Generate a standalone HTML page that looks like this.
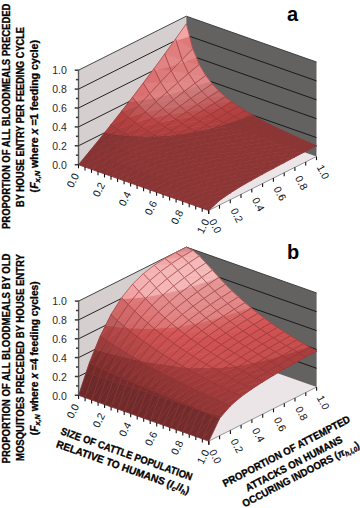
<!DOCTYPE html><html><head><meta charset="utf-8"><style>
*{margin:0;padding:0}
html,body{width:360px;height:508px;background:#fff;overflow:hidden}
svg{display:block}
.m{fill:none;stroke:#943636;stroke-width:0.6;stroke-opacity:1;stroke-linejoin:round}
.g{fill:none;stroke:#111;stroke-width:0.9}
.fa{stroke:#8a8a8a;stroke-width:0.9}
.t{fill:none;stroke:#333;stroke-width:0.9}
.ax{stroke:#5a5a5a;stroke-width:1.4}
.az{stroke:#3a3a3a;stroke-width:1.5}
.tk{stroke:#111;stroke-width:1.1}
text{font-family:"Liberation Sans",sans-serif}
.zl{font-size:10.5px;fill:#2a2a2a;text-anchor:end}
.tl{font-size:10.5px;fill:#111;text-anchor:middle;dominant-baseline:central}
.ti{font-size:10px;font-weight:bold;fill:#000;stroke:#000;stroke-width:0.3}
.bt{font-size:10.4px}
</style></head><body><svg width="360" height="508" viewBox="0 0 360 508"><rect width="360" height="508" fill="#fff"/><polygon points="78.5,164.7 186.3,110.7 316.5,156.5 208.7,210.5" fill="#ece5e7"/>
<polygon points="78.5,164.7 78.5,70.2 186.3,16.2 186.3,110.7" fill="#d5cfd0"/>
<polygon points="186.3,110.7 186.3,16.2 316.5,62 316.5,156.5" fill="#646161"/>
<polyline points="78.5,145.8 186.3,91.8 316.5,137.6" class="g"/>
<polyline points="78.5,126.9 186.3,72.9 316.5,118.7" class="g"/>
<polyline points="78.5,108 186.3,54 316.5,99.8" class="g"/>
<polyline points="78.5,89.1 186.3,35.1 316.5,80.9" class="g"/>
<polyline points="78.5,70.2 186.3,16.2 316.5,62" class="t"/>
<line x1="208.7" y1="210.5" x2="316.5" y2="156.5" class="fa"/>
<polygon points="176,40.7 182,59.8 192.8,48.8 177.5,40.1" fill="#e18181" stroke="#e18181" stroke-width="0.6"/>
<polygon points="175.5,39 176,40.7 177.5,40.1" fill="#f3aaaa" stroke="#f3aaaa" stroke-width="0.6"/>
<polygon points="177.5,40.1 192.8,48.8 189.5,36.2" fill="#df7979" stroke="#df7979" stroke-width="0.6"/>
<polygon points="175.5,39 177.5,40.1 189.5,36.2 186.3,23.8" fill="#f2a5a5" stroke="#f2a5a5" stroke-width="0.6"/>
<polygon points="175.5,39 182,59.8 192.8,48.8 186.3,23.8" class="m"/>
<polygon points="183.1,62.1 188.5,73.4 199.3,64.4 186.3,60.9" fill="#de7e7e" stroke="#de7e7e" stroke-width="0.6"/>
<polygon points="182,59.8 183.1,62.1 186.3,60.9" fill="#e59191" stroke="#e59191" stroke-width="0.6"/>
<polygon points="186.3,60.9 199.3,64.4 196.5,57.6" fill="#dc7676" stroke="#dc7676" stroke-width="0.6"/>
<polygon points="182,59.8 186.3,60.9 196.5,57.6 192.8,48.8" fill="#e38b8b" stroke="#e38b8b" stroke-width="0.6"/>
<polygon points="182,59.8 188.5,73.4 199.3,64.4 192.8,48.8" class="m"/>
<polygon points="188.5,73.4 195.1,83.3 205.8,75.5" fill="#e18888" stroke="#e18888" stroke-width="0.6"/>
<polygon points="188.5,73.4 205.8,75.5 199.3,64.4" fill="#e08585" stroke="#e08585" stroke-width="0.6"/>
<polygon points="188.5,73.4 195.1,83.3 205.8,75.5 199.3,64.4" class="m"/>
<polygon points="197.2,85.9 201.6,91.1 212.3,83.9 203.6,83.6" fill="#cd7c7c" stroke="#cd7c7c" stroke-width="0.6"/>
<polygon points="195.1,83.3 197.2,85.9 203.6,83.6" fill="#e18888" stroke="#e18888" stroke-width="0.6"/>
<polygon points="203.6,83.6 212.3,83.9 210.4,81.4" fill="#ce7d7d" stroke="#ce7d7d" stroke-width="0.6"/>
<polygon points="195.1,83.3 203.6,83.6 210.4,81.4 205.8,75.5" fill="#e18989" stroke="#e18989" stroke-width="0.6"/>
<polygon points="195.1,83.3 201.6,91.1 212.3,83.9 205.8,75.5" class="m"/>
<polygon points="201.6,91.1 208.1,97.6 218.8,90.8" fill="#c97272" stroke="#c97272" stroke-width="0.6"/>
<polygon points="201.6,91.1 218.8,90.8 212.3,83.9" fill="#cb7676" stroke="#cb7676" stroke-width="0.6"/>
<polygon points="201.6,91.1 208.1,97.6 218.8,90.8 212.3,83.9" class="m"/>
<polygon points="208.1,97.6 214.6,103.2 225.4,96.7" fill="#c36161" stroke="#c36161" stroke-width="0.6"/>
<polygon points="208.1,97.6 225.4,96.7 218.8,90.8" fill="#c56868" stroke="#c56868" stroke-width="0.6"/>
<polygon points="208.1,97.6 214.6,103.2 225.4,96.7 218.8,90.8" class="m"/>
<polygon points="214.6,103.2 221.1,108.1 231.9,101.8" fill="#bc4f4f" stroke="#bc4f4f" stroke-width="0.6"/>
<polygon points="214.6,103.2 231.9,101.8 225.4,96.7" fill="#be5656" stroke="#be5656" stroke-width="0.6"/>
<polygon points="214.6,103.2 221.1,108.1 231.9,101.8 225.4,96.7" class="m"/>
<polygon points="221.1,108.1 227.6,112.5 238.4,106.4" fill="#b64242" stroke="#b64242" stroke-width="0.6"/>
<polygon points="221.1,108.1 238.4,106.4 231.9,101.8" fill="#b74343" stroke="#b74343" stroke-width="0.6"/>
<polygon points="221.1,108.1 227.6,112.5 238.4,106.4 231.9,101.8" class="m"/>
<polygon points="227.6,112.5 234.1,116.6 244.9,110.6" fill="#b24040" stroke="#b24040" stroke-width="0.6"/>
<polygon points="227.6,112.5 244.9,110.6 238.4,106.4" fill="#b34141" stroke="#b34141" stroke-width="0.6"/>
<polygon points="227.6,112.5 234.1,116.6 244.9,110.6 238.4,106.4" class="m"/>
<polygon points="239.3,119.6 240.6,120.4 247.1,116.8" fill="#8c3535" stroke="#8c3535" stroke-width="0.6"/>
<polygon points="234.1,116.6 239.3,119.6 247.1,116.8 251.4,114.5" fill="#ae3f3f" stroke="#ae3f3f" stroke-width="0.6"/>
<polygon points="234.1,116.6 251.4,114.5 244.9,110.6" fill="#af3f3f" stroke="#af3f3f" stroke-width="0.6"/>
<polygon points="234.1,116.6 240.6,120.4 251.4,114.5 244.9,110.6" class="m"/>
<polygon points="240.6,120.4 247.1,124 257.9,118.2" fill="#8c3535" stroke="#8c3535" stroke-width="0.6"/>
<polygon points="240.6,120.4 257.9,118.2 252.4,115 247.1,116.8" fill="#8c3535" stroke="#8c3535" stroke-width="0.6"/>
<polygon points="252.4,115 251.4,114.5 247.1,116.8" fill="#ac3e3e" stroke="#ac3e3e" stroke-width="0.6"/>
<polygon points="240.6,120.4 247.1,124 257.9,118.2 251.4,114.5" class="m"/>
<polygon points="247.1,124 253.6,127.4 264.4,121.7" fill="#8c3535" stroke="#8c3535" stroke-width="0.6"/>
<polygon points="247.1,124 264.4,121.7 257.9,118.2" fill="#8c3535" stroke="#8c3535" stroke-width="0.6"/>
<polygon points="247.1,124 253.6,127.4 264.4,121.7 257.9,118.2" class="m"/>
<polygon points="253.6,127.4 260.1,130.7 270.9,125" fill="#8c3535" stroke="#8c3535" stroke-width="0.6"/>
<polygon points="253.6,127.4 270.9,125 264.4,121.7" fill="#8c3535" stroke="#8c3535" stroke-width="0.6"/>
<polygon points="253.6,127.4 260.1,130.7 270.9,125 264.4,121.7" class="m"/>
<polygon points="260.1,130.7 266.7,133.9 277.4,128.2" fill="#8c3535" stroke="#8c3535" stroke-width="0.6"/>
<polygon points="260.1,130.7 277.4,128.2 270.9,125" fill="#8c3535" stroke="#8c3535" stroke-width="0.6"/>
<polygon points="260.1,130.7 266.7,133.9 277.4,128.2 270.9,125" class="m"/>
<polygon points="266.7,133.9 273.2,137 283.9,131.3" fill="#8c3535" stroke="#8c3535" stroke-width="0.6"/>
<polygon points="266.7,133.9 283.9,131.3 277.4,128.2" fill="#8c3535" stroke="#8c3535" stroke-width="0.6"/>
<polygon points="266.7,133.9 273.2,137 283.9,131.3 277.4,128.2" class="m"/>
<polygon points="273.2,137 279.7,140 290.5,134.3" fill="#8c3535" stroke="#8c3535" stroke-width="0.6"/>
<polygon points="273.2,137 290.5,134.3 283.9,131.3" fill="#8c3535" stroke="#8c3535" stroke-width="0.6"/>
<polygon points="273.2,137 279.7,140 290.5,134.3 283.9,131.3" class="m"/>
<polygon points="279.7,140 286.2,142.9 297,137.3" fill="#8c3535" stroke="#8c3535" stroke-width="0.6"/>
<polygon points="279.7,140 297,137.3 290.5,134.3" fill="#8c3535" stroke="#8c3535" stroke-width="0.6"/>
<polygon points="279.7,140 286.2,142.9 297,137.3 290.5,134.3" class="m"/>
<polygon points="286.2,142.9 292.7,145.8 303.5,140.2" fill="#8c3535" stroke="#8c3535" stroke-width="0.6"/>
<polygon points="286.2,142.9 303.5,140.2 297,137.3" fill="#8c3535" stroke="#8c3535" stroke-width="0.6"/>
<polygon points="286.2,142.9 292.7,145.8 303.5,140.2 297,137.3" class="m"/>
<polygon points="292.7,145.8 299.2,148.6 310,143" fill="#8c3535" stroke="#8c3535" stroke-width="0.6"/>
<polygon points="292.7,145.8 310,143 303.5,140.2" fill="#8c3535" stroke="#8c3535" stroke-width="0.6"/>
<polygon points="292.7,145.8 299.2,148.6 310,143 303.5,140.2" class="m"/>
<polygon points="299.2,148.6 305.7,151.3 316.5,145.8" fill="#8c3535" stroke="#8c3535" stroke-width="0.6"/>
<polygon points="299.2,148.6 316.5,145.8 310,143" fill="#8c3535" stroke="#8c3535" stroke-width="0.6"/>
<polygon points="299.2,148.6 305.7,151.3 316.5,145.8 310,143" class="m"/>
<polygon points="169.6,66.5 171.2,70.9 178.4,63.5" fill="#db7373" stroke="#db7373" stroke-width="0.6"/>
<polygon points="164.7,54 169.6,66.5 178.4,63.5 182,59.8" fill="#e28888" stroke="#e28888" stroke-width="0.6"/>
<polygon points="164.7,54 182,59.8 176,40.7 173.8,41.3" fill="#e07e7e" stroke="#e07e7e" stroke-width="0.6"/>
<polygon points="176,40.7 175.5,39 173.8,41.3" fill="#f3a8a8" stroke="#f3a8a8" stroke-width="0.6"/>
<polygon points="164.7,54 171.2,70.9 182,59.8 175.5,39" class="m"/>
<polygon points="171.2,70.9 177.8,82.6 188.5,73.4" fill="#df8383" stroke="#df8383" stroke-width="0.6"/>
<polygon points="171.2,70.9 188.5,73.4 183.1,62.1 178.4,63.5" fill="#dd7b7b" stroke="#dd7b7b" stroke-width="0.6"/>
<polygon points="183.1,62.1 182,59.8 178.4,63.5" fill="#e48f8f" stroke="#e48f8f" stroke-width="0.6"/>
<polygon points="171.2,70.9 177.8,82.6 188.5,73.4 182,59.8" class="m"/>
<polygon points="183.4,90.3 184.3,91.4 187.6,88.9" fill="#ce7d7d" stroke="#ce7d7d" stroke-width="0.6"/>
<polygon points="177.8,82.6 183.4,90.3 187.6,88.9 195.1,83.3" fill="#e18989" stroke="#e18989" stroke-width="0.6"/>
<polygon points="177.8,82.6 195.1,83.3 188.5,73.4" fill="#e08686" stroke="#e08686" stroke-width="0.6"/>
<polygon points="177.8,82.6 184.3,91.4 195.1,83.3 188.5,73.4" class="m"/>
<polygon points="184.3,91.4 190.8,98.5 201.6,91.1" fill="#cc7878" stroke="#cc7878" stroke-width="0.6"/>
<polygon points="184.3,91.4 201.6,91.1 197.2,85.9 187.6,88.9" fill="#cd7b7b" stroke="#cd7b7b" stroke-width="0.6"/>
<polygon points="197.2,85.9 195.1,83.3 187.6,88.9" fill="#e08787" stroke="#e08787" stroke-width="0.6"/>
<polygon points="184.3,91.4 190.8,98.5 201.6,91.1 195.1,83.3" class="m"/>
<polygon points="190.8,98.5 197.3,104.6 208.1,97.6" fill="#c76b6b" stroke="#c76b6b" stroke-width="0.6"/>
<polygon points="190.8,98.5 208.1,97.6 201.6,91.1" fill="#c97171" stroke="#c97171" stroke-width="0.6"/>
<polygon points="190.8,98.5 197.3,104.6 208.1,97.6 201.6,91.1" class="m"/>
<polygon points="197.3,104.6 203.8,109.8 214.6,103.2" fill="#c05959" stroke="#c05959" stroke-width="0.6"/>
<polygon points="197.3,104.6 214.6,103.2 208.1,97.6" fill="#c36161" stroke="#c36161" stroke-width="0.6"/>
<polygon points="197.3,104.6 203.8,109.8 214.6,103.2 208.1,97.6" class="m"/>
<polygon points="203.8,109.8 210.3,114.5 221.1,108.1" fill="#b94747" stroke="#b94747" stroke-width="0.6"/>
<polygon points="203.8,109.8 221.1,108.1 214.6,103.2" fill="#bc4f4f" stroke="#bc4f4f" stroke-width="0.6"/>
<polygon points="203.8,109.8 210.3,114.5 221.1,108.1 214.6,103.2" class="m"/>
<polygon points="210.3,114.5 216.8,118.8 227.6,112.5" fill="#b44141" stroke="#b44141" stroke-width="0.6"/>
<polygon points="210.3,114.5 227.6,112.5 221.1,108.1" fill="#b64242" stroke="#b64242" stroke-width="0.6"/>
<polygon points="210.3,114.5 216.8,118.8 227.6,112.5 221.1,108.1" class="m"/>
<polygon points="216.8,118.8 223.3,122.7 234.1,116.6" fill="#b03f3f" stroke="#b03f3f" stroke-width="0.6"/>
<polygon points="216.8,118.8 234.1,116.6 227.6,112.5" fill="#b24040" stroke="#b24040" stroke-width="0.6"/>
<polygon points="216.8,118.8 223.3,122.7 234.1,116.6 227.6,112.5" class="m"/>
<polygon points="225.6,124 229.8,126.4 240.6,120.4 233.9,121.3" fill="#8c3535" stroke="#8c3535" stroke-width="0.6"/>
<polygon points="223.3,122.7 225.6,124 233.9,121.3" fill="#ad3e3e" stroke="#ad3e3e" stroke-width="0.6"/>
<polygon points="233.9,121.3 240.6,120.4 239.3,119.6" fill="#8c3535" stroke="#8c3535" stroke-width="0.6"/>
<polygon points="223.3,122.7 233.9,121.3 239.3,119.6 234.1,116.6" fill="#ae3f3f" stroke="#ae3f3f" stroke-width="0.6"/>
<polygon points="223.3,122.7 229.8,126.4 240.6,120.4 234.1,116.6" class="m"/>
<polygon points="229.8,126.4 236.4,129.9 247.1,124" fill="#8c3535" stroke="#8c3535" stroke-width="0.6"/>
<polygon points="229.8,126.4 247.1,124 240.6,120.4" fill="#8c3535" stroke="#8c3535" stroke-width="0.6"/>
<polygon points="229.8,126.4 236.4,129.9 247.1,124 240.6,120.4" class="m"/>
<polygon points="236.4,129.9 242.9,133.3 253.6,127.4" fill="#8c3535" stroke="#8c3535" stroke-width="0.6"/>
<polygon points="236.4,129.9 253.6,127.4 247.1,124" fill="#8c3535" stroke="#8c3535" stroke-width="0.6"/>
<polygon points="236.4,129.9 242.9,133.3 253.6,127.4 247.1,124" class="m"/>
<polygon points="242.9,133.3 249.4,136.5 260.1,130.7" fill="#8c3535" stroke="#8c3535" stroke-width="0.6"/>
<polygon points="242.9,133.3 260.1,130.7 253.6,127.4" fill="#8c3535" stroke="#8c3535" stroke-width="0.6"/>
<polygon points="242.9,133.3 249.4,136.5 260.1,130.7 253.6,127.4" class="m"/>
<polygon points="249.4,136.5 255.9,139.7 266.7,133.9" fill="#8c3535" stroke="#8c3535" stroke-width="0.6"/>
<polygon points="249.4,136.5 266.7,133.9 260.1,130.7" fill="#8c3535" stroke="#8c3535" stroke-width="0.6"/>
<polygon points="249.4,136.5 255.9,139.7 266.7,133.9 260.1,130.7" class="m"/>
<polygon points="255.9,139.7 262.4,142.7 273.2,137" fill="#8c3535" stroke="#8c3535" stroke-width="0.6"/>
<polygon points="255.9,139.7 273.2,137 266.7,133.9" fill="#8c3535" stroke="#8c3535" stroke-width="0.6"/>
<polygon points="255.9,139.7 262.4,142.7 273.2,137 266.7,133.9" class="m"/>
<polygon points="262.4,142.7 268.9,145.7 279.7,140" fill="#8c3535" stroke="#8c3535" stroke-width="0.6"/>
<polygon points="262.4,142.7 279.7,140 273.2,137" fill="#8c3535" stroke="#8c3535" stroke-width="0.6"/>
<polygon points="262.4,142.7 268.9,145.7 279.7,140 273.2,137" class="m"/>
<polygon points="268.9,145.7 275.4,148.6 286.2,142.9" fill="#8c3535" stroke="#8c3535" stroke-width="0.6"/>
<polygon points="268.9,145.7 286.2,142.9 279.7,140" fill="#8c3535" stroke="#8c3535" stroke-width="0.6"/>
<polygon points="268.9,145.7 275.4,148.6 286.2,142.9 279.7,140" class="m"/>
<polygon points="275.4,148.6 281.9,151.4 292.7,145.8" fill="#8c3535" stroke="#8c3535" stroke-width="0.6"/>
<polygon points="275.4,148.6 292.7,145.8 286.2,142.9" fill="#8c3535" stroke="#8c3535" stroke-width="0.6"/>
<polygon points="275.4,148.6 281.9,151.4 292.7,145.8 286.2,142.9" class="m"/>
<polygon points="281.9,151.4 288.4,154.2 299.2,148.6" fill="#8c3535" stroke="#8c3535" stroke-width="0.6"/>
<polygon points="281.9,151.4 299.2,148.6 292.7,145.8" fill="#8c3535" stroke="#8c3535" stroke-width="0.6"/>
<polygon points="281.9,151.4 288.4,154.2 299.2,148.6 292.7,145.8" class="m"/>
<polygon points="288.4,154.2 294.9,156.9 305.7,151.3" fill="#8c3535" stroke="#8c3535" stroke-width="0.6"/>
<polygon points="288.4,154.2 305.7,151.3 299.2,148.6" fill="#8c3535" stroke="#8c3535" stroke-width="0.6"/>
<polygon points="288.4,154.2 294.9,156.9 305.7,151.3 299.2,148.6" class="m"/>
<polygon points="154.9,70.5 160.5,82.1 171.2,70.9 159,69.3" fill="#dd7b7b" stroke="#dd7b7b" stroke-width="0.6"/>
<polygon points="154,68.7 154.9,70.5 159,69.3" fill="#e48f8f" stroke="#e48f8f" stroke-width="0.6"/>
<polygon points="159,69.3 171.2,70.9 169.6,66.5" fill="#da6d6d" stroke="#da6d6d" stroke-width="0.6"/>
<polygon points="154,68.7 159,69.3 169.6,66.5 164.7,54" fill="#e18383" stroke="#e18383" stroke-width="0.6"/>
<polygon points="154,68.7 160.5,82.1 171.2,70.9 164.7,54" class="m"/>
<polygon points="160.5,82.1 167,92 177.8,82.6" fill="#e08585" stroke="#e08585" stroke-width="0.6"/>
<polygon points="160.5,82.1 177.8,82.6 171.2,70.9" fill="#de7e7e" stroke="#de7e7e" stroke-width="0.6"/>
<polygon points="160.5,82.1 167,92 177.8,82.6 171.2,70.9" class="m"/>
<polygon points="169,94.4 173.5,99.8 184.3,91.4 178.5,91.6" fill="#cc7a7a" stroke="#cc7a7a" stroke-width="0.6"/>
<polygon points="167,92 169,94.4 178.5,91.6" fill="#e08686" stroke="#e08686" stroke-width="0.6"/>
<polygon points="178.5,91.6 184.3,91.4 183.4,90.3" fill="#cc7979" stroke="#cc7979" stroke-width="0.6"/>
<polygon points="167,92 178.5,91.6 183.4,90.3 177.8,82.6" fill="#e08585" stroke="#e08585" stroke-width="0.6"/>
<polygon points="167,92 173.5,99.8 184.3,91.4 177.8,82.6" class="m"/>
<polygon points="173.5,99.8 180,106.2 190.8,98.5" fill="#c97070" stroke="#c97070" stroke-width="0.6"/>
<polygon points="173.5,99.8 190.8,98.5 184.3,91.4" fill="#cb7676" stroke="#cb7676" stroke-width="0.6"/>
<polygon points="173.5,99.8 180,106.2 190.8,98.5 184.3,91.4" class="m"/>
<polygon points="180,106.2 186.5,111.7 197.3,104.6" fill="#c36060" stroke="#c36060" stroke-width="0.6"/>
<polygon points="180,106.2 197.3,104.6 190.8,98.5" fill="#c66969" stroke="#c66969" stroke-width="0.6"/>
<polygon points="180,106.2 186.5,111.7 197.3,104.6 190.8,98.5" class="m"/>
<polygon points="186.5,111.7 193,116.6 203.8,109.8" fill="#bc4e4e" stroke="#bc4e4e" stroke-width="0.6"/>
<polygon points="186.5,111.7 203.8,109.8 197.3,104.6" fill="#c05959" stroke="#c05959" stroke-width="0.6"/>
<polygon points="186.5,111.7 193,116.6 203.8,109.8 197.3,104.6" class="m"/>
<polygon points="193,116.6 199.5,121.1 210.3,114.5" fill="#b64242" stroke="#b64242" stroke-width="0.6"/>
<polygon points="193,116.6 210.3,114.5 203.8,109.8" fill="#b94747" stroke="#b94747" stroke-width="0.6"/>
<polygon points="193,116.6 199.5,121.1 210.3,114.5 203.8,109.8" class="m"/>
<polygon points="199.5,121.1 206,125.2 216.8,118.8" fill="#b24040" stroke="#b24040" stroke-width="0.6"/>
<polygon points="199.5,121.1 216.8,118.8 210.3,114.5" fill="#b44141" stroke="#b44141" stroke-width="0.6"/>
<polygon points="199.5,121.1 206,125.2 216.8,118.8 210.3,114.5" class="m"/>
<polygon points="211,128.1 212.6,129 217,126.4" fill="#8c3535" stroke="#8c3535" stroke-width="0.6"/>
<polygon points="206,125.2 211,128.1 217,126.4 223.3,122.7" fill="#ae3f3f" stroke="#ae3f3f" stroke-width="0.6"/>
<polygon points="206,125.2 223.3,122.7 216.8,118.8" fill="#b04040" stroke="#b04040" stroke-width="0.6"/>
<polygon points="206,125.2 212.6,129 223.3,122.7 216.8,118.8" class="m"/>
<polygon points="212.6,129 219.1,132.6 229.8,126.4" fill="#8c3535" stroke="#8c3535" stroke-width="0.6"/>
<polygon points="212.6,129 229.8,126.4 225.6,124 217,126.4" fill="#8c3535" stroke="#8c3535" stroke-width="0.6"/>
<polygon points="225.6,124 223.3,122.7 217,126.4" fill="#ad3e3e" stroke="#ad3e3e" stroke-width="0.6"/>
<polygon points="212.6,129 219.1,132.6 229.8,126.4 223.3,122.7" class="m"/>
<polygon points="219.1,132.6 225.6,136 236.4,129.9" fill="#8c3535" stroke="#8c3535" stroke-width="0.6"/>
<polygon points="219.1,132.6 236.4,129.9 229.8,126.4" fill="#8c3535" stroke="#8c3535" stroke-width="0.6"/>
<polygon points="219.1,132.6 225.6,136 236.4,129.9 229.8,126.4" class="m"/>
<polygon points="225.6,136 232.1,139.3 242.9,133.3" fill="#8c3535" stroke="#8c3535" stroke-width="0.6"/>
<polygon points="225.6,136 242.9,133.3 236.4,129.9" fill="#8c3535" stroke="#8c3535" stroke-width="0.6"/>
<polygon points="225.6,136 232.1,139.3 242.9,133.3 236.4,129.9" class="m"/>
<polygon points="232.1,139.3 238.6,142.4 249.4,136.5" fill="#8c3535" stroke="#8c3535" stroke-width="0.6"/>
<polygon points="232.1,139.3 249.4,136.5 242.9,133.3" fill="#8c3535" stroke="#8c3535" stroke-width="0.6"/>
<polygon points="232.1,139.3 238.6,142.4 249.4,136.5 242.9,133.3" class="m"/>
<polygon points="238.6,142.4 245.1,145.5 255.9,139.7" fill="#8c3535" stroke="#8c3535" stroke-width="0.6"/>
<polygon points="238.6,142.4 255.9,139.7 249.4,136.5" fill="#8c3535" stroke="#8c3535" stroke-width="0.6"/>
<polygon points="238.6,142.4 245.1,145.5 255.9,139.7 249.4,136.5" class="m"/>
<polygon points="245.1,145.5 251.6,148.5 262.4,142.7" fill="#8c3535" stroke="#8c3535" stroke-width="0.6"/>
<polygon points="245.1,145.5 262.4,142.7 255.9,139.7" fill="#8c3535" stroke="#8c3535" stroke-width="0.6"/>
<polygon points="245.1,145.5 251.6,148.5 262.4,142.7 255.9,139.7" class="m"/>
<polygon points="251.6,148.5 258.1,151.4 268.9,145.7" fill="#8c3535" stroke="#8c3535" stroke-width="0.6"/>
<polygon points="251.6,148.5 268.9,145.7 262.4,142.7" fill="#8c3535" stroke="#8c3535" stroke-width="0.6"/>
<polygon points="251.6,148.5 258.1,151.4 268.9,145.7 262.4,142.7" class="m"/>
<polygon points="258.1,151.4 264.6,154.3 275.4,148.6" fill="#8c3535" stroke="#8c3535" stroke-width="0.6"/>
<polygon points="258.1,151.4 275.4,148.6 268.9,145.7" fill="#8c3535" stroke="#8c3535" stroke-width="0.6"/>
<polygon points="258.1,151.4 264.6,154.3 275.4,148.6 268.9,145.7" class="m"/>
<polygon points="264.6,154.3 271.1,157.1 281.9,151.4" fill="#8c3535" stroke="#8c3535" stroke-width="0.6"/>
<polygon points="264.6,154.3 281.9,151.4 275.4,148.6" fill="#8c3535" stroke="#8c3535" stroke-width="0.6"/>
<polygon points="264.6,154.3 271.1,157.1 281.9,151.4 275.4,148.6" class="m"/>
<polygon points="271.1,157.1 277.6,159.9 288.4,154.2" fill="#8c3535" stroke="#8c3535" stroke-width="0.6"/>
<polygon points="271.1,157.1 288.4,154.2 281.9,151.4" fill="#8c3535" stroke="#8c3535" stroke-width="0.6"/>
<polygon points="271.1,157.1 277.6,159.9 288.4,154.2 281.9,151.4" class="m"/>
<polygon points="277.6,159.9 284.2,162.6 294.9,156.9" fill="#8c3535" stroke="#8c3535" stroke-width="0.6"/>
<polygon points="277.6,159.9 294.9,156.9 288.4,154.2" fill="#8c3535" stroke="#8c3535" stroke-width="0.6"/>
<polygon points="277.6,159.9 284.2,162.6 294.9,156.9 288.4,154.2" class="m"/>
<polygon points="143.2,83.1 149.7,93.6 160.5,82.1" fill="#de7e7e" stroke="#de7e7e" stroke-width="0.6"/>
<polygon points="143.2,83.1 160.5,82.1 154.9,70.5 152.1,71.1" fill="#db7171" stroke="#db7171" stroke-width="0.6"/>
<polygon points="154.9,70.5 154,68.7 152.1,71.1" fill="#e28686" stroke="#e28686" stroke-width="0.6"/>
<polygon points="143.2,83.1 149.7,93.6 160.5,82.1 154,68.7" class="m"/>
<polygon points="153.2,98 156.2,101.8 162.9,95.7" fill="#cb7676" stroke="#cb7676" stroke-width="0.6"/>
<polygon points="149.7,93.6 153.2,98 162.9,95.7 167,92" fill="#df8282" stroke="#df8282" stroke-width="0.6"/>
<polygon points="149.7,93.6 167,92 160.5,82.1" fill="#de7e7e" stroke="#de7e7e" stroke-width="0.6"/>
<polygon points="149.7,93.6 156.2,101.8 167,92 160.5,82.1" class="m"/>
<polygon points="156.2,101.8 162.7,108.5 173.5,99.8" fill="#c87070" stroke="#c87070" stroke-width="0.6"/>
<polygon points="156.2,101.8 173.5,99.8 169,94.4 162.9,95.7" fill="#ca7373" stroke="#ca7373" stroke-width="0.6"/>
<polygon points="169,94.4 167,92 162.9,95.7" fill="#df8080" stroke="#df8080" stroke-width="0.6"/>
<polygon points="156.2,101.8 162.7,108.5 173.5,99.8 167,92" class="m"/>
<polygon points="162.7,108.5 169.2,114.2 180,106.2" fill="#c36262" stroke="#c36262" stroke-width="0.6"/>
<polygon points="162.7,108.5 180,106.2 173.5,99.8" fill="#c76c6c" stroke="#c76c6c" stroke-width="0.6"/>
<polygon points="162.7,108.5 169.2,114.2 180,106.2 173.5,99.8" class="m"/>
<polygon points="169.2,114.2 175.7,119.2 186.5,111.7" fill="#bd5252" stroke="#bd5252" stroke-width="0.6"/>
<polygon points="169.2,114.2 186.5,111.7 180,106.2" fill="#c25e5e" stroke="#c25e5e" stroke-width="0.6"/>
<polygon points="169.2,114.2 175.7,119.2 186.5,111.7 180,106.2" class="m"/>
<polygon points="175.7,119.2 182.2,123.7 193,116.6" fill="#b74242" stroke="#b74242" stroke-width="0.6"/>
<polygon points="175.7,119.2 193,116.6 186.5,111.7" fill="#bb4d4d" stroke="#bb4d4d" stroke-width="0.6"/>
<polygon points="175.7,119.2 182.2,123.7 193,116.6 186.5,111.7" class="m"/>
<polygon points="182.2,123.7 188.8,127.9 199.5,121.1" fill="#b34040" stroke="#b34040" stroke-width="0.6"/>
<polygon points="182.2,123.7 199.5,121.1 193,116.6" fill="#b64141" stroke="#b64141" stroke-width="0.6"/>
<polygon points="182.2,123.7 188.8,127.9 199.5,121.1 193,116.6" class="m"/>
<polygon points="195.1,131.7 195.3,131.7 195.5,131.6" fill="#8c3535" stroke="#8c3535" stroke-width="0.6"/>
<polygon points="188.8,127.9 195.1,131.7 195.5,131.6 206,125.2" fill="#af3f3f" stroke="#af3f3f" stroke-width="0.6"/>
<polygon points="188.8,127.9 206,125.2 199.5,121.1" fill="#b24040" stroke="#b24040" stroke-width="0.6"/>
<polygon points="188.8,127.9 195.3,131.7 206,125.2 199.5,121.1" class="m"/>
<polygon points="195.3,131.7 201.8,135.4 212.6,129" fill="#8c3535" stroke="#8c3535" stroke-width="0.6"/>
<polygon points="195.3,131.7 212.6,129 211,128.1 195.5,131.6" fill="#8c3535" stroke="#8c3535" stroke-width="0.6"/>
<polygon points="211,128.1 206,125.2 195.5,131.6" fill="#ae3f3f" stroke="#ae3f3f" stroke-width="0.6"/>
<polygon points="195.3,131.7 201.8,135.4 212.6,129 206,125.2" class="m"/>
<polygon points="201.8,135.4 208.3,138.8 219.1,132.6" fill="#8c3535" stroke="#8c3535" stroke-width="0.6"/>
<polygon points="201.8,135.4 219.1,132.6 212.6,129" fill="#8c3535" stroke="#8c3535" stroke-width="0.6"/>
<polygon points="201.8,135.4 208.3,138.8 219.1,132.6 212.6,129" class="m"/>
<polygon points="208.3,138.8 214.8,142.2 225.6,136" fill="#8c3535" stroke="#8c3535" stroke-width="0.6"/>
<polygon points="208.3,138.8 225.6,136 219.1,132.6" fill="#8c3535" stroke="#8c3535" stroke-width="0.6"/>
<polygon points="208.3,138.8 214.8,142.2 225.6,136 219.1,132.6" class="m"/>
<polygon points="214.8,142.2 221.3,145.4 232.1,139.3" fill="#8c3535" stroke="#8c3535" stroke-width="0.6"/>
<polygon points="214.8,142.2 232.1,139.3 225.6,136" fill="#8c3535" stroke="#8c3535" stroke-width="0.6"/>
<polygon points="214.8,142.2 221.3,145.4 232.1,139.3 225.6,136" class="m"/>
<polygon points="221.3,145.4 227.8,148.4 238.6,142.4" fill="#8c3535" stroke="#8c3535" stroke-width="0.6"/>
<polygon points="221.3,145.4 238.6,142.4 232.1,139.3" fill="#8c3535" stroke="#8c3535" stroke-width="0.6"/>
<polygon points="221.3,145.4 227.8,148.4 238.6,142.4 232.1,139.3" class="m"/>
<polygon points="227.8,148.4 234.3,151.5 245.1,145.5" fill="#8c3535" stroke="#8c3535" stroke-width="0.6"/>
<polygon points="227.8,148.4 245.1,145.5 238.6,142.4" fill="#8c3535" stroke="#8c3535" stroke-width="0.6"/>
<polygon points="227.8,148.4 234.3,151.5 245.1,145.5 238.6,142.4" class="m"/>
<polygon points="234.3,151.5 240.8,154.4 251.6,148.5" fill="#8c3535" stroke="#8c3535" stroke-width="0.6"/>
<polygon points="234.3,151.5 251.6,148.5 245.1,145.5" fill="#8c3535" stroke="#8c3535" stroke-width="0.6"/>
<polygon points="234.3,151.5 240.8,154.4 251.6,148.5 245.1,145.5" class="m"/>
<polygon points="240.8,154.4 247.3,157.3 258.1,151.4" fill="#8c3535" stroke="#8c3535" stroke-width="0.6"/>
<polygon points="240.8,154.4 258.1,151.4 251.6,148.5" fill="#8c3535" stroke="#8c3535" stroke-width="0.6"/>
<polygon points="240.8,154.4 247.3,157.3 258.1,151.4 251.6,148.5" class="m"/>
<polygon points="247.3,157.3 253.8,160.1 264.6,154.3" fill="#8c3535" stroke="#8c3535" stroke-width="0.6"/>
<polygon points="247.3,157.3 264.6,154.3 258.1,151.4" fill="#8c3535" stroke="#8c3535" stroke-width="0.6"/>
<polygon points="247.3,157.3 253.8,160.1 264.6,154.3 258.1,151.4" class="m"/>
<polygon points="253.8,160.1 260.4,162.9 271.1,157.1" fill="#8c3535" stroke="#8c3535" stroke-width="0.6"/>
<polygon points="253.8,160.1 271.1,157.1 264.6,154.3" fill="#8c3535" stroke="#8c3535" stroke-width="0.6"/>
<polygon points="253.8,160.1 260.4,162.9 271.1,157.1 264.6,154.3" class="m"/>
<polygon points="260.4,162.9 266.9,165.6 277.6,159.9" fill="#8c3535" stroke="#8c3535" stroke-width="0.6"/>
<polygon points="260.4,162.9 277.6,159.9 271.1,157.1" fill="#8c3535" stroke="#8c3535" stroke-width="0.6"/>
<polygon points="260.4,162.9 266.9,165.6 277.6,159.9 271.1,157.1" class="m"/>
<polygon points="266.9,165.6 273.4,168.3 284.2,162.6" fill="#8c3535" stroke="#8c3535" stroke-width="0.6"/>
<polygon points="266.9,165.6 284.2,162.6 277.6,159.9" fill="#8c3535" stroke="#8c3535" stroke-width="0.6"/>
<polygon points="266.9,165.6 273.4,168.3 284.2,162.6 277.6,159.9" class="m"/>
<polygon points="135.4,101 138.9,105.3 144.2,99.5" fill="#c56868" stroke="#c56868" stroke-width="0.6"/>
<polygon points="132.4,97.3 135.4,101 144.2,99.5 149.7,93.6" fill="#dc7575" stroke="#dc7575" stroke-width="0.6"/>
<polygon points="132.4,97.3 149.7,93.6 143.2,83.1" fill="#da6f6f" stroke="#da6f6f" stroke-width="0.6"/>
<polygon points="132.4,97.3 138.9,105.3 149.7,93.6 143.2,83.1" class="m"/>
<polygon points="138.9,105.3 145.4,111.9 156.2,101.8" fill="#c46565" stroke="#c46565" stroke-width="0.6"/>
<polygon points="138.9,105.3 156.2,101.8 153.2,98 144.2,99.5" fill="#c66969" stroke="#c66969" stroke-width="0.6"/>
<polygon points="153.2,98 149.7,93.6 144.2,99.5" fill="#dc7676" stroke="#dc7676" stroke-width="0.6"/>
<polygon points="138.9,105.3 145.4,111.9 156.2,101.8 149.7,93.6" class="m"/>
<polygon points="145.4,111.9 151.9,117.5 162.7,108.5" fill="#c05b5b" stroke="#c05b5b" stroke-width="0.6"/>
<polygon points="145.4,111.9 162.7,108.5 156.2,101.8" fill="#c56666" stroke="#c56666" stroke-width="0.6"/>
<polygon points="145.4,111.9 151.9,117.5 162.7,108.5 156.2,101.8" class="m"/>
<polygon points="151.9,117.5 158.4,122.5 169.2,114.2" fill="#bb4c4c" stroke="#bb4c4c" stroke-width="0.6"/>
<polygon points="151.9,117.5 169.2,114.2 162.7,108.5" fill="#c15c5c" stroke="#c15c5c" stroke-width="0.6"/>
<polygon points="151.9,117.5 158.4,122.5 169.2,114.2 162.7,108.5" class="m"/>
<polygon points="158.4,122.5 164.9,127 175.7,119.2" fill="#b64242" stroke="#b64242" stroke-width="0.6"/>
<polygon points="158.4,122.5 175.7,119.2 169.2,114.2" fill="#bc4e4e" stroke="#bc4e4e" stroke-width="0.6"/>
<polygon points="158.4,122.5 164.9,127 175.7,119.2 169.2,114.2" class="m"/>
<polygon points="164.9,127 171.5,131.1 182.2,123.7" fill="#b24040" stroke="#b24040" stroke-width="0.6"/>
<polygon points="164.9,127 182.2,123.7 175.7,119.2" fill="#b64242" stroke="#b64242" stroke-width="0.6"/>
<polygon points="164.9,127 171.5,131.1 182.2,123.7 175.7,119.2" class="m"/>
<polygon points="177.4,134.6 178,135 178.9,134.4" fill="#8c3535" stroke="#8c3535" stroke-width="0.6"/>
<polygon points="171.5,131.1 177.4,134.6 178.9,134.4 188.8,127.9" fill="#af3f3f" stroke="#af3f3f" stroke-width="0.6"/>
<polygon points="171.5,131.1 188.8,127.9 182.2,123.7" fill="#b24040" stroke="#b24040" stroke-width="0.6"/>
<polygon points="171.5,131.1 178,135 188.8,127.9 182.2,123.7" class="m"/>
<polygon points="178,135 184.5,138.6 195.3,131.7" fill="#8c3535" stroke="#8c3535" stroke-width="0.6"/>
<polygon points="178,135 195.3,131.7 195.1,131.7 178.9,134.4" fill="#8c3535" stroke="#8c3535" stroke-width="0.6"/>
<polygon points="195.1,131.7 188.8,127.9 178.9,134.4" fill="#af3f3f" stroke="#af3f3f" stroke-width="0.6"/>
<polygon points="178,135 184.5,138.6 195.3,131.7 188.8,127.9" class="m"/>
<polygon points="184.5,138.6 191,142 201.8,135.4" fill="#8c3535" stroke="#8c3535" stroke-width="0.6"/>
<polygon points="184.5,138.6 201.8,135.4 195.3,131.7" fill="#8c3535" stroke="#8c3535" stroke-width="0.6"/>
<polygon points="184.5,138.6 191,142 201.8,135.4 195.3,131.7" class="m"/>
<polygon points="191,142 197.5,145.3 208.3,138.8" fill="#8c3535" stroke="#8c3535" stroke-width="0.6"/>
<polygon points="191,142 208.3,138.8 201.8,135.4" fill="#8c3535" stroke="#8c3535" stroke-width="0.6"/>
<polygon points="191,142 197.5,145.3 208.3,138.8 201.8,135.4" class="m"/>
<polygon points="197.5,145.3 204,148.5 214.8,142.2" fill="#8c3535" stroke="#8c3535" stroke-width="0.6"/>
<polygon points="197.5,145.3 214.8,142.2 208.3,138.8" fill="#8c3535" stroke="#8c3535" stroke-width="0.6"/>
<polygon points="197.5,145.3 204,148.5 214.8,142.2 208.3,138.8" class="m"/>
<polygon points="204,148.5 210.5,151.6 221.3,145.4" fill="#8c3535" stroke="#8c3535" stroke-width="0.6"/>
<polygon points="204,148.5 221.3,145.4 214.8,142.2" fill="#8c3535" stroke="#8c3535" stroke-width="0.6"/>
<polygon points="204,148.5 210.5,151.6 221.3,145.4 214.8,142.2" class="m"/>
<polygon points="210.5,151.6 217,154.6 227.8,148.4" fill="#8c3535" stroke="#8c3535" stroke-width="0.6"/>
<polygon points="210.5,151.6 227.8,148.4 221.3,145.4" fill="#8c3535" stroke="#8c3535" stroke-width="0.6"/>
<polygon points="210.5,151.6 217,154.6 227.8,148.4 221.3,145.4" class="m"/>
<polygon points="217,154.6 223.5,157.5 234.3,151.5" fill="#8c3535" stroke="#8c3535" stroke-width="0.6"/>
<polygon points="217,154.6 234.3,151.5 227.8,148.4" fill="#8c3535" stroke="#8c3535" stroke-width="0.6"/>
<polygon points="217,154.6 223.5,157.5 234.3,151.5 227.8,148.4" class="m"/>
<polygon points="223.5,157.5 230,160.4 240.8,154.4" fill="#8c3535" stroke="#8c3535" stroke-width="0.6"/>
<polygon points="223.5,157.5 240.8,154.4 234.3,151.5" fill="#8c3535" stroke="#8c3535" stroke-width="0.6"/>
<polygon points="223.5,157.5 230,160.4 240.8,154.4 234.3,151.5" class="m"/>
<polygon points="230,160.4 236.6,163.2 247.3,157.3" fill="#8c3535" stroke="#8c3535" stroke-width="0.6"/>
<polygon points="230,160.4 247.3,157.3 240.8,154.4" fill="#8c3535" stroke="#8c3535" stroke-width="0.6"/>
<polygon points="230,160.4 236.6,163.2 247.3,157.3 240.8,154.4" class="m"/>
<polygon points="236.6,163.2 243.1,166 253.8,160.1" fill="#8c3535" stroke="#8c3535" stroke-width="0.6"/>
<polygon points="236.6,163.2 253.8,160.1 247.3,157.3" fill="#8c3535" stroke="#8c3535" stroke-width="0.6"/>
<polygon points="236.6,163.2 243.1,166 253.8,160.1 247.3,157.3" class="m"/>
<polygon points="243.1,166 249.6,168.7 260.4,162.9" fill="#8c3535" stroke="#8c3535" stroke-width="0.6"/>
<polygon points="243.1,166 260.4,162.9 253.8,160.1" fill="#8c3535" stroke="#8c3535" stroke-width="0.6"/>
<polygon points="243.1,166 249.6,168.7 260.4,162.9 253.8,160.1" class="m"/>
<polygon points="249.6,168.7 256.1,171.4 266.9,165.6" fill="#8c3535" stroke="#8c3535" stroke-width="0.6"/>
<polygon points="249.6,168.7 266.9,165.6 260.4,162.9" fill="#8c3535" stroke="#8c3535" stroke-width="0.6"/>
<polygon points="249.6,168.7 256.1,171.4 266.9,165.6 260.4,162.9" class="m"/>
<polygon points="256.1,171.4 262.6,174.1 273.4,168.3" fill="#8c3535" stroke="#8c3535" stroke-width="0.6"/>
<polygon points="256.1,171.4 273.4,168.3 266.9,165.6" fill="#8c3535" stroke="#8c3535" stroke-width="0.6"/>
<polygon points="256.1,171.4 262.6,174.1 273.4,168.3 266.9,165.6" class="m"/>
<polygon points="121.6,111.2 128.1,117.2 138.9,105.3" fill="#b94747" stroke="#b94747" stroke-width="0.6"/>
<polygon points="121.6,111.2 138.9,105.3 135.4,101 129.1,101.6" fill="#bd5353" stroke="#bd5353" stroke-width="0.6"/>
<polygon points="135.4,101 132.4,97.3 129.1,101.6" fill="#d76262" stroke="#d76262" stroke-width="0.6"/>
<polygon points="121.6,111.2 128.1,117.2 138.9,105.3 132.4,97.3" class="m"/>
<polygon points="128.1,117.2 134.6,122.4 145.4,111.9" fill="#b74242" stroke="#b74242" stroke-width="0.6"/>
<polygon points="128.1,117.2 145.4,111.9 138.9,105.3" fill="#be5454" stroke="#be5454" stroke-width="0.6"/>
<polygon points="128.1,117.2 134.6,122.4 145.4,111.9 138.9,105.3" class="m"/>
<polygon points="134.6,122.4 141.2,127 151.9,117.5" fill="#b54141" stroke="#b54141" stroke-width="0.6"/>
<polygon points="134.6,122.4 151.9,117.5 145.4,111.9" fill="#bc4e4e" stroke="#bc4e4e" stroke-width="0.6"/>
<polygon points="134.6,122.4 141.2,127 151.9,117.5 145.4,111.9" class="m"/>
<polygon points="141.2,127 147.7,131.3 158.4,122.5" fill="#b24040" stroke="#b24040" stroke-width="0.6"/>
<polygon points="141.2,127 158.4,122.5 151.9,117.5" fill="#b84444" stroke="#b84444" stroke-width="0.6"/>
<polygon points="141.2,127 147.7,131.3 158.4,122.5 151.9,117.5" class="m"/>
<polygon points="147.7,131.3 154.2,135.2 164.9,127" fill="#af3f3f" stroke="#af3f3f" stroke-width="0.6"/>
<polygon points="147.7,131.3 164.9,127 158.4,122.5" fill="#b44141" stroke="#b44141" stroke-width="0.6"/>
<polygon points="147.7,131.3 154.2,135.2 164.9,127 158.4,122.5" class="m"/>
<polygon points="156.1,136.3 160.7,138.9 165.1,135.7" fill="#8c3535" stroke="#8c3535" stroke-width="0.6"/>
<polygon points="154.2,135.2 156.1,136.3 165.1,135.7 171.5,131.1" fill="#ac3e3e" stroke="#ac3e3e" stroke-width="0.6"/>
<polygon points="154.2,135.2 171.5,131.1 164.9,127" fill="#b14040" stroke="#b14040" stroke-width="0.6"/>
<polygon points="154.2,135.2 160.7,138.9 171.5,131.1 164.9,127" class="m"/>
<polygon points="160.7,138.9 167.2,142.4 178,135" fill="#8c3535" stroke="#8c3535" stroke-width="0.6"/>
<polygon points="160.7,138.9 178,135 177.4,134.6 165.1,135.7" fill="#8c3535" stroke="#8c3535" stroke-width="0.6"/>
<polygon points="177.4,134.6 171.5,131.1 165.1,135.7" fill="#ae3f3f" stroke="#ae3f3f" stroke-width="0.6"/>
<polygon points="160.7,138.9 167.2,142.4 178,135 171.5,131.1" class="m"/>
<polygon points="167.2,142.4 173.7,145.8 184.5,138.6" fill="#8c3535" stroke="#8c3535" stroke-width="0.6"/>
<polygon points="167.2,142.4 184.5,138.6 178,135" fill="#8c3535" stroke="#8c3535" stroke-width="0.6"/>
<polygon points="167.2,142.4 173.7,145.8 184.5,138.6 178,135" class="m"/>
<polygon points="173.7,145.8 180.2,149 191,142" fill="#8c3535" stroke="#8c3535" stroke-width="0.6"/>
<polygon points="173.7,145.8 191,142 184.5,138.6" fill="#8c3535" stroke="#8c3535" stroke-width="0.6"/>
<polygon points="173.7,145.8 180.2,149 191,142 184.5,138.6" class="m"/>
<polygon points="180.2,149 186.7,152.1 197.5,145.3" fill="#8c3535" stroke="#8c3535" stroke-width="0.6"/>
<polygon points="180.2,149 197.5,145.3 191,142" fill="#8c3535" stroke="#8c3535" stroke-width="0.6"/>
<polygon points="180.2,149 186.7,152.1 197.5,145.3 191,142" class="m"/>
<polygon points="186.7,152.1 193.2,155.2 204,148.5" fill="#8c3535" stroke="#8c3535" stroke-width="0.6"/>
<polygon points="186.7,152.1 204,148.5 197.5,145.3" fill="#8c3535" stroke="#8c3535" stroke-width="0.6"/>
<polygon points="186.7,152.1 193.2,155.2 204,148.5 197.5,145.3" class="m"/>
<polygon points="193.2,155.2 199.7,158.1 210.5,151.6" fill="#8c3535" stroke="#8c3535" stroke-width="0.6"/>
<polygon points="193.2,155.2 210.5,151.6 204,148.5" fill="#8c3535" stroke="#8c3535" stroke-width="0.6"/>
<polygon points="193.2,155.2 199.7,158.1 210.5,151.6 204,148.5" class="m"/>
<polygon points="199.7,158.1 206.2,161 217,154.6" fill="#8c3535" stroke="#8c3535" stroke-width="0.6"/>
<polygon points="199.7,158.1 217,154.6 210.5,151.6" fill="#8c3535" stroke="#8c3535" stroke-width="0.6"/>
<polygon points="199.7,158.1 206.2,161 217,154.6 210.5,151.6" class="m"/>
<polygon points="206.2,161 212.8,163.9 223.5,157.5" fill="#8c3535" stroke="#8c3535" stroke-width="0.6"/>
<polygon points="206.2,161 223.5,157.5 217,154.6" fill="#8c3535" stroke="#8c3535" stroke-width="0.6"/>
<polygon points="206.2,161 212.8,163.9 223.5,157.5 217,154.6" class="m"/>
<polygon points="212.8,163.9 219.3,166.6 230,160.4" fill="#8c3535" stroke="#8c3535" stroke-width="0.6"/>
<polygon points="212.8,163.9 230,160.4 223.5,157.5" fill="#8c3535" stroke="#8c3535" stroke-width="0.6"/>
<polygon points="212.8,163.9 219.3,166.6 230,160.4 223.5,157.5" class="m"/>
<polygon points="219.3,166.6 225.8,169.4 236.6,163.2" fill="#8c3535" stroke="#8c3535" stroke-width="0.6"/>
<polygon points="219.3,166.6 236.6,163.2 230,160.4" fill="#8c3535" stroke="#8c3535" stroke-width="0.6"/>
<polygon points="219.3,166.6 225.8,169.4 236.6,163.2 230,160.4" class="m"/>
<polygon points="225.8,169.4 232.3,172.1 243.1,166" fill="#8c3535" stroke="#8c3535" stroke-width="0.6"/>
<polygon points="225.8,169.4 243.1,166 236.6,163.2" fill="#8c3535" stroke="#8c3535" stroke-width="0.6"/>
<polygon points="225.8,169.4 232.3,172.1 243.1,166 236.6,163.2" class="m"/>
<polygon points="232.3,172.1 238.8,174.8 249.6,168.7" fill="#8c3535" stroke="#8c3535" stroke-width="0.6"/>
<polygon points="232.3,172.1 249.6,168.7 243.1,166" fill="#8c3535" stroke="#8c3535" stroke-width="0.6"/>
<polygon points="232.3,172.1 238.8,174.8 249.6,168.7 243.1,166" class="m"/>
<polygon points="238.8,174.8 245.3,177.4 256.1,171.4" fill="#8c3535" stroke="#8c3535" stroke-width="0.6"/>
<polygon points="238.8,174.8 256.1,171.4 249.6,168.7" fill="#8c3535" stroke="#8c3535" stroke-width="0.6"/>
<polygon points="238.8,174.8 245.3,177.4 256.1,171.4 249.6,168.7" class="m"/>
<polygon points="245.3,177.4 251.8,180.1 262.6,174.1" fill="#8c3535" stroke="#8c3535" stroke-width="0.6"/>
<polygon points="245.3,177.4 262.6,174.1 256.1,171.4" fill="#8c3535" stroke="#8c3535" stroke-width="0.6"/>
<polygon points="245.3,177.4 251.8,180.1 262.6,174.1 256.1,171.4" class="m"/>
<polygon points="110.8,124.9 117.3,129.3 128.1,117.2" fill="#aa3d3d" stroke="#aa3d3d" stroke-width="0.6"/>
<polygon points="110.8,124.9 128.1,117.2 121.6,111.2" fill="#b34040" stroke="#b34040" stroke-width="0.6"/>
<polygon points="110.8,124.9 117.3,129.3 128.1,117.2 121.6,111.2" class="m"/>
<polygon points="117.3,129.3 123.9,133.3 134.6,122.4" fill="#aa3d3d" stroke="#aa3d3d" stroke-width="0.6"/>
<polygon points="117.3,129.3 134.6,122.4 128.1,117.2" fill="#b24040" stroke="#b24040" stroke-width="0.6"/>
<polygon points="117.3,129.3 123.9,133.3 134.6,122.4 128.1,117.2" class="m"/>
<polygon points="127.8,135.6 130.4,137.1 131.7,135.8" fill="#8b3434" stroke="#8b3434" stroke-width="0.6"/>
<polygon points="123.9,133.3 127.8,135.6 131.7,135.8 141.2,127" fill="#a93d3d" stroke="#a93d3d" stroke-width="0.6"/>
<polygon points="123.9,133.3 141.2,127 134.6,122.4" fill="#b14040" stroke="#b14040" stroke-width="0.6"/>
<polygon points="123.9,133.3 130.4,137.1 141.2,127 134.6,122.4" class="m"/>
<polygon points="130.4,137.1 136.9,140.6 142,136.2 134.2,135.8" fill="#8c3535" stroke="#8c3535" stroke-width="0.6"/>
<polygon points="142,136.2 147.7,131.3 134.2,135.8" fill="#a83d3d" stroke="#a83d3d" stroke-width="0.6"/>
<polygon points="130.4,137.1 134.2,135.8 131.7,135.8" fill="#893434" stroke="#893434" stroke-width="0.6"/>
<polygon points="134.2,135.8 147.7,131.3 141.2,127 131.7,135.8" fill="#af3f3f" stroke="#af3f3f" stroke-width="0.6"/>
<polygon points="130.4,137.1 136.9,140.6 147.7,131.3 141.2,127" class="m"/>
<polygon points="136.9,140.6 143.4,144 152.8,136.3 151,136.2" fill="#8c3535" stroke="#8c3535" stroke-width="0.6"/>
<polygon points="152.8,136.3 154.2,135.2 151,136.2" fill="#a63c3c" stroke="#a63c3c" stroke-width="0.6"/>
<polygon points="136.9,140.6 151,136.2 142,136.2" fill="#8b3535" stroke="#8b3535" stroke-width="0.6"/>
<polygon points="151,136.2 154.2,135.2 147.7,131.3 142,136.2" fill="#ad3e3e" stroke="#ad3e3e" stroke-width="0.6"/>
<polygon points="136.9,140.6 143.4,144 154.2,135.2 147.7,131.3" class="m"/>
<polygon points="143.4,144 149.9,147.3 160.7,138.9" fill="#8c3535" stroke="#8c3535" stroke-width="0.6"/>
<polygon points="143.4,144 160.7,138.9 156.1,136.3 152.8,136.3" fill="#8c3535" stroke="#8c3535" stroke-width="0.6"/>
<polygon points="156.1,136.3 154.2,135.2 152.8,136.3" fill="#ab3e3e" stroke="#ab3e3e" stroke-width="0.6"/>
<polygon points="143.4,144 149.9,147.3 160.7,138.9 154.2,135.2" class="m"/>
<polygon points="149.9,147.3 156.4,150.4 167.2,142.4" fill="#8c3535" stroke="#8c3535" stroke-width="0.6"/>
<polygon points="149.9,147.3 167.2,142.4 160.7,138.9" fill="#8c3535" stroke="#8c3535" stroke-width="0.6"/>
<polygon points="149.9,147.3 156.4,150.4 167.2,142.4 160.7,138.9" class="m"/>
<polygon points="156.4,150.4 162.9,153.5 173.7,145.8" fill="#8c3535" stroke="#8c3535" stroke-width="0.6"/>
<polygon points="156.4,150.4 173.7,145.8 167.2,142.4" fill="#8c3535" stroke="#8c3535" stroke-width="0.6"/>
<polygon points="156.4,150.4 162.9,153.5 173.7,145.8 167.2,142.4" class="m"/>
<polygon points="162.9,153.5 169.4,156.5 180.2,149" fill="#8c3535" stroke="#8c3535" stroke-width="0.6"/>
<polygon points="162.9,153.5 180.2,149 173.7,145.8" fill="#8c3535" stroke="#8c3535" stroke-width="0.6"/>
<polygon points="162.9,153.5 169.4,156.5 180.2,149 173.7,145.8" class="m"/>
<polygon points="169.4,156.5 175.9,159.4 186.7,152.1" fill="#8c3535" stroke="#8c3535" stroke-width="0.6"/>
<polygon points="169.4,156.5 186.7,152.1 180.2,149" fill="#8c3535" stroke="#8c3535" stroke-width="0.6"/>
<polygon points="169.4,156.5 175.9,159.4 186.7,152.1 180.2,149" class="m"/>
<polygon points="175.9,159.4 182.5,162.2 193.2,155.2" fill="#8c3535" stroke="#8c3535" stroke-width="0.6"/>
<polygon points="175.9,159.4 193.2,155.2 186.7,152.1" fill="#8c3535" stroke="#8c3535" stroke-width="0.6"/>
<polygon points="175.9,159.4 182.5,162.2 193.2,155.2 186.7,152.1" class="m"/>
<polygon points="182.5,162.2 189,165 199.7,158.1" fill="#8c3535" stroke="#8c3535" stroke-width="0.6"/>
<polygon points="182.5,162.2 199.7,158.1 193.2,155.2" fill="#8c3535" stroke="#8c3535" stroke-width="0.6"/>
<polygon points="182.5,162.2 189,165 199.7,158.1 193.2,155.2" class="m"/>
<polygon points="189,165 195.5,167.8 206.2,161" fill="#8c3535" stroke="#8c3535" stroke-width="0.6"/>
<polygon points="189,165 206.2,161 199.7,158.1" fill="#8c3535" stroke="#8c3535" stroke-width="0.6"/>
<polygon points="189,165 195.5,167.8 206.2,161 199.7,158.1" class="m"/>
<polygon points="195.5,167.8 202,170.5 212.8,163.9" fill="#8c3535" stroke="#8c3535" stroke-width="0.6"/>
<polygon points="195.5,167.8 212.8,163.9 206.2,161" fill="#8c3535" stroke="#8c3535" stroke-width="0.6"/>
<polygon points="195.5,167.8 202,170.5 212.8,163.9 206.2,161" class="m"/>
<polygon points="202,170.5 208.5,173.2 219.3,166.6" fill="#8c3535" stroke="#8c3535" stroke-width="0.6"/>
<polygon points="202,170.5 219.3,166.6 212.8,163.9" fill="#8c3535" stroke="#8c3535" stroke-width="0.6"/>
<polygon points="202,170.5 208.5,173.2 219.3,166.6 212.8,163.9" class="m"/>
<polygon points="208.5,173.2 215,175.9 225.8,169.4" fill="#8c3535" stroke="#8c3535" stroke-width="0.6"/>
<polygon points="208.5,173.2 225.8,169.4 219.3,166.6" fill="#8c3535" stroke="#8c3535" stroke-width="0.6"/>
<polygon points="208.5,173.2 215,175.9 225.8,169.4 219.3,166.6" class="m"/>
<polygon points="215,175.9 221.5,178.5 232.3,172.1" fill="#8c3535" stroke="#8c3535" stroke-width="0.6"/>
<polygon points="215,175.9 232.3,172.1 225.8,169.4" fill="#8c3535" stroke="#8c3535" stroke-width="0.6"/>
<polygon points="215,175.9 221.5,178.5 232.3,172.1 225.8,169.4" class="m"/>
<polygon points="221.5,178.5 228,181.1 238.8,174.8" fill="#8c3535" stroke="#8c3535" stroke-width="0.6"/>
<polygon points="221.5,178.5 238.8,174.8 232.3,172.1" fill="#8c3535" stroke="#8c3535" stroke-width="0.6"/>
<polygon points="221.5,178.5 228,181.1 238.8,174.8 232.3,172.1" class="m"/>
<polygon points="228,181.1 234.5,183.7 245.3,177.4" fill="#8c3535" stroke="#8c3535" stroke-width="0.6"/>
<polygon points="228,181.1 245.3,177.4 238.8,174.8" fill="#8c3535" stroke="#8c3535" stroke-width="0.6"/>
<polygon points="228,181.1 234.5,183.7 245.3,177.4 238.8,174.8" class="m"/>
<polygon points="234.5,183.7 241,186.2 251.8,180.1" fill="#8c3535" stroke="#8c3535" stroke-width="0.6"/>
<polygon points="234.5,183.7 251.8,180.1 245.3,177.4" fill="#8c3535" stroke="#8c3535" stroke-width="0.6"/>
<polygon points="234.5,183.7 241,186.2 251.8,180.1 245.3,177.4" class="m"/>
<polygon points="100.1,138.4 106.6,141.6 113.3,133.9 109.8,133.3" fill="#873333" stroke="#873333" stroke-width="0.6"/>
<polygon points="113.3,133.9 117.3,129.3 109.8,133.3" fill="#9b3838" stroke="#9b3838" stroke-width="0.6"/>
<polygon points="100.1,138.4 109.8,133.3 104.6,132.7" fill="#823131" stroke="#823131" stroke-width="0.6"/>
<polygon points="109.8,133.3 117.3,129.3 110.8,124.9 104.6,132.7" fill="#a63c3c" stroke="#a63c3c" stroke-width="0.6"/>
<polygon points="100.1,138.4 106.6,141.6 117.3,129.3 110.8,124.9" class="m"/>
<polygon points="106.6,141.6 113.1,144.7 122.3,135 120.9,134.7" fill="#893434" stroke="#893434" stroke-width="0.6"/>
<polygon points="122.3,135 123.9,133.3 120.9,134.7" fill="#9c3838" stroke="#9c3838" stroke-width="0.6"/>
<polygon points="106.6,141.6 120.9,134.7 113.3,133.9" fill="#853232" stroke="#853232" stroke-width="0.6"/>
<polygon points="120.9,134.7 123.9,133.3 117.3,129.3 113.3,133.9" fill="#a63c3c" stroke="#a63c3c" stroke-width="0.6"/>
<polygon points="106.6,141.6 113.1,144.7 123.9,133.3 117.3,129.3" class="m"/>
<polygon points="113.1,144.7 119.6,147.7 130.4,137.1" fill="#8b3434" stroke="#8b3434" stroke-width="0.6"/>
<polygon points="113.1,144.7 130.4,137.1 127.8,135.6 122.3,135" fill="#883333" stroke="#883333" stroke-width="0.6"/>
<polygon points="127.8,135.6 123.9,133.3 122.3,135" fill="#a63c3c" stroke="#a63c3c" stroke-width="0.6"/>
<polygon points="113.1,144.7 119.6,147.7 130.4,137.1 123.9,133.3" class="m"/>
<polygon points="119.6,147.7 126.1,150.7 136.9,140.6" fill="#8c3535" stroke="#8c3535" stroke-width="0.6"/>
<polygon points="119.6,147.7 136.9,140.6 130.4,137.1" fill="#8a3434" stroke="#8a3434" stroke-width="0.6"/>
<polygon points="119.6,147.7 126.1,150.7 136.9,140.6 130.4,137.1" class="m"/>
<polygon points="126.1,150.7 132.6,153.6 143.4,144" fill="#8c3535" stroke="#8c3535" stroke-width="0.6"/>
<polygon points="126.1,150.7 143.4,144 136.9,140.6" fill="#8b3535" stroke="#8b3535" stroke-width="0.6"/>
<polygon points="126.1,150.7 132.6,153.6 143.4,144 136.9,140.6" class="m"/>
<polygon points="132.6,153.6 139.1,156.4 149.9,147.3" fill="#8c3535" stroke="#8c3535" stroke-width="0.6"/>
<polygon points="132.6,153.6 149.9,147.3 143.4,144" fill="#8c3535" stroke="#8c3535" stroke-width="0.6"/>
<polygon points="132.6,153.6 139.1,156.4 149.9,147.3 143.4,144" class="m"/>
<polygon points="139.1,156.4 145.6,159.2 156.4,150.4" fill="#8c3535" stroke="#8c3535" stroke-width="0.6"/>
<polygon points="139.1,156.4 156.4,150.4 149.9,147.3" fill="#8c3535" stroke="#8c3535" stroke-width="0.6"/>
<polygon points="139.1,156.4 145.6,159.2 156.4,150.4 149.9,147.3" class="m"/>
<polygon points="145.6,159.2 152.1,161.9 162.9,153.5" fill="#8c3535" stroke="#8c3535" stroke-width="0.6"/>
<polygon points="145.6,159.2 162.9,153.5 156.4,150.4" fill="#8c3535" stroke="#8c3535" stroke-width="0.6"/>
<polygon points="145.6,159.2 152.1,161.9 162.9,153.5 156.4,150.4" class="m"/>
<polygon points="152.1,161.9 158.7,164.6 169.4,156.5" fill="#8c3535" stroke="#8c3535" stroke-width="0.6"/>
<polygon points="152.1,161.9 169.4,156.5 162.9,153.5" fill="#8c3535" stroke="#8c3535" stroke-width="0.6"/>
<polygon points="152.1,161.9 158.7,164.6 169.4,156.5 162.9,153.5" class="m"/>
<polygon points="158.7,164.6 165.2,167.3 175.9,159.4" fill="#8c3535" stroke="#8c3535" stroke-width="0.6"/>
<polygon points="158.7,164.6 175.9,159.4 169.4,156.5" fill="#8c3535" stroke="#8c3535" stroke-width="0.6"/>
<polygon points="158.7,164.6 165.2,167.3 175.9,159.4 169.4,156.5" class="m"/>
<polygon points="165.2,167.3 171.7,169.9 182.5,162.2" fill="#8c3535" stroke="#8c3535" stroke-width="0.6"/>
<polygon points="165.2,167.3 182.5,162.2 175.9,159.4" fill="#8c3535" stroke="#8c3535" stroke-width="0.6"/>
<polygon points="165.2,167.3 171.7,169.9 182.5,162.2 175.9,159.4" class="m"/>
<polygon points="171.7,169.9 178.2,172.6 189,165" fill="#8c3535" stroke="#8c3535" stroke-width="0.6"/>
<polygon points="171.7,169.9 189,165 182.5,162.2" fill="#8c3535" stroke="#8c3535" stroke-width="0.6"/>
<polygon points="171.7,169.9 178.2,172.6 189,165 182.5,162.2" class="m"/>
<polygon points="178.2,172.6 184.7,175.2 195.5,167.8" fill="#8c3535" stroke="#8c3535" stroke-width="0.6"/>
<polygon points="178.2,172.6 195.5,167.8 189,165" fill="#8c3535" stroke="#8c3535" stroke-width="0.6"/>
<polygon points="178.2,172.6 184.7,175.2 195.5,167.8 189,165" class="m"/>
<polygon points="184.7,175.2 191.2,177.7 202,170.5" fill="#8c3535" stroke="#8c3535" stroke-width="0.6"/>
<polygon points="184.7,175.2 202,170.5 195.5,167.8" fill="#8c3535" stroke="#8c3535" stroke-width="0.6"/>
<polygon points="184.7,175.2 191.2,177.7 202,170.5 195.5,167.8" class="m"/>
<polygon points="191.2,177.7 197.7,180.3 208.5,173.2" fill="#8c3535" stroke="#8c3535" stroke-width="0.6"/>
<polygon points="191.2,177.7 208.5,173.2 202,170.5" fill="#8c3535" stroke="#8c3535" stroke-width="0.6"/>
<polygon points="191.2,177.7 197.7,180.3 208.5,173.2 202,170.5" class="m"/>
<polygon points="197.7,180.3 204.2,182.8 215,175.9" fill="#8c3535" stroke="#8c3535" stroke-width="0.6"/>
<polygon points="197.7,180.3 215,175.9 208.5,173.2" fill="#8c3535" stroke="#8c3535" stroke-width="0.6"/>
<polygon points="197.7,180.3 204.2,182.8 215,175.9 208.5,173.2" class="m"/>
<polygon points="204.2,182.8 210.7,185.4 221.5,178.5" fill="#8c3535" stroke="#8c3535" stroke-width="0.6"/>
<polygon points="204.2,182.8 221.5,178.5 215,175.9" fill="#8c3535" stroke="#8c3535" stroke-width="0.6"/>
<polygon points="204.2,182.8 210.7,185.4 221.5,178.5 215,175.9" class="m"/>
<polygon points="210.7,185.4 217.2,187.9 228,181.1" fill="#8c3535" stroke="#8c3535" stroke-width="0.6"/>
<polygon points="210.7,185.4 228,181.1 221.5,178.5" fill="#8c3535" stroke="#8c3535" stroke-width="0.6"/>
<polygon points="210.7,185.4 217.2,187.9 228,181.1 221.5,178.5" class="m"/>
<polygon points="217.2,187.9 223.8,190.4 234.5,183.7" fill="#8c3535" stroke="#8c3535" stroke-width="0.6"/>
<polygon points="217.2,187.9 234.5,183.7 228,181.1" fill="#8c3535" stroke="#8c3535" stroke-width="0.6"/>
<polygon points="217.2,187.9 223.8,190.4 234.5,183.7 228,181.1" class="m"/>
<polygon points="223.8,190.4 230.3,192.9 241,186.2" fill="#8c3535" stroke="#8c3535" stroke-width="0.6"/>
<polygon points="223.8,190.4 241,186.2 234.5,183.7" fill="#8c3535" stroke="#8c3535" stroke-width="0.6"/>
<polygon points="223.8,190.4 230.3,192.9 241,186.2 234.5,183.7" class="m"/>
<polygon points="89.3,151.6 95.8,154.2 106.6,141.6" fill="#873333" stroke="#873333" stroke-width="0.6"/>
<polygon points="89.3,151.6 106.6,141.6 100.1,138.4" fill="#853232" stroke="#853232" stroke-width="0.6"/>
<polygon points="89.3,151.6 95.8,154.2 106.6,141.6 100.1,138.4" class="m"/>
<polygon points="95.8,154.2 102.3,156.7 113.1,144.7" fill="#883333" stroke="#883333" stroke-width="0.6"/>
<polygon points="95.8,154.2 113.1,144.7 106.6,141.6" fill="#863333" stroke="#863333" stroke-width="0.6"/>
<polygon points="95.8,154.2 102.3,156.7 113.1,144.7 106.6,141.6" class="m"/>
<polygon points="102.3,156.7 108.8,159.2 119.6,147.7" fill="#893434" stroke="#893434" stroke-width="0.6"/>
<polygon points="102.3,156.7 119.6,147.7 113.1,144.7" fill="#883333" stroke="#883333" stroke-width="0.6"/>
<polygon points="102.3,156.7 108.8,159.2 119.6,147.7 113.1,144.7" class="m"/>
<polygon points="108.8,159.2 115.3,161.7 126.1,150.7" fill="#8a3434" stroke="#8a3434" stroke-width="0.6"/>
<polygon points="108.8,159.2 126.1,150.7 119.6,147.7" fill="#893434" stroke="#893434" stroke-width="0.6"/>
<polygon points="108.8,159.2 115.3,161.7 126.1,150.7 119.6,147.7" class="m"/>
<polygon points="115.3,161.7 121.8,164.1 132.6,153.6" fill="#8b3535" stroke="#8b3535" stroke-width="0.6"/>
<polygon points="115.3,161.7 132.6,153.6 126.1,150.7" fill="#8a3434" stroke="#8a3434" stroke-width="0.6"/>
<polygon points="115.3,161.7 121.8,164.1 132.6,153.6 126.1,150.7" class="m"/>
<polygon points="121.8,164.1 128.3,166.6 139.1,156.4" fill="#8c3535" stroke="#8c3535" stroke-width="0.6"/>
<polygon points="121.8,164.1 139.1,156.4 132.6,153.6" fill="#8b3535" stroke="#8b3535" stroke-width="0.6"/>
<polygon points="121.8,164.1 128.3,166.6 139.1,156.4 132.6,153.6" class="m"/>
<polygon points="128.3,166.6 134.8,169 145.6,159.2" fill="#8c3535" stroke="#8c3535" stroke-width="0.6"/>
<polygon points="128.3,166.6 145.6,159.2 139.1,156.4" fill="#8c3535" stroke="#8c3535" stroke-width="0.6"/>
<polygon points="128.3,166.6 134.8,169 145.6,159.2 139.1,156.4" class="m"/>
<polygon points="134.8,169 141.4,171.5 152.1,161.9" fill="#8c3535" stroke="#8c3535" stroke-width="0.6"/>
<polygon points="134.8,169 152.1,161.9 145.6,159.2" fill="#8c3535" stroke="#8c3535" stroke-width="0.6"/>
<polygon points="134.8,169 141.4,171.5 152.1,161.9 145.6,159.2" class="m"/>
<polygon points="141.4,171.5 147.9,173.9 158.7,164.6" fill="#8c3535" stroke="#8c3535" stroke-width="0.6"/>
<polygon points="141.4,171.5 158.7,164.6 152.1,161.9" fill="#8c3535" stroke="#8c3535" stroke-width="0.6"/>
<polygon points="141.4,171.5 147.9,173.9 158.7,164.6 152.1,161.9" class="m"/>
<polygon points="147.9,173.9 154.4,176.4 165.2,167.3" fill="#8c3535" stroke="#8c3535" stroke-width="0.6"/>
<polygon points="147.9,173.9 165.2,167.3 158.7,164.6" fill="#8c3535" stroke="#8c3535" stroke-width="0.6"/>
<polygon points="147.9,173.9 154.4,176.4 165.2,167.3 158.7,164.6" class="m"/>
<polygon points="154.4,176.4 160.9,178.8 171.7,169.9" fill="#8c3535" stroke="#8c3535" stroke-width="0.6"/>
<polygon points="154.4,176.4 171.7,169.9 165.2,167.3" fill="#8c3535" stroke="#8c3535" stroke-width="0.6"/>
<polygon points="154.4,176.4 160.9,178.8 171.7,169.9 165.2,167.3" class="m"/>
<polygon points="160.9,178.8 167.4,181.2 178.2,172.6" fill="#8c3535" stroke="#8c3535" stroke-width="0.6"/>
<polygon points="160.9,178.8 178.2,172.6 171.7,169.9" fill="#8c3535" stroke="#8c3535" stroke-width="0.6"/>
<polygon points="160.9,178.8 167.4,181.2 178.2,172.6 171.7,169.9" class="m"/>
<polygon points="167.4,181.2 173.9,183.6 184.7,175.2" fill="#8c3535" stroke="#8c3535" stroke-width="0.6"/>
<polygon points="167.4,181.2 184.7,175.2 178.2,172.6" fill="#8c3535" stroke="#8c3535" stroke-width="0.6"/>
<polygon points="167.4,181.2 173.9,183.6 184.7,175.2 178.2,172.6" class="m"/>
<polygon points="173.9,183.6 180.4,186 191.2,177.7" fill="#8c3535" stroke="#8c3535" stroke-width="0.6"/>
<polygon points="173.9,183.6 191.2,177.7 184.7,175.2" fill="#8c3535" stroke="#8c3535" stroke-width="0.6"/>
<polygon points="173.9,183.6 180.4,186 191.2,177.7 184.7,175.2" class="m"/>
<polygon points="180.4,186 186.9,188.4 197.7,180.3" fill="#8c3535" stroke="#8c3535" stroke-width="0.6"/>
<polygon points="180.4,186 197.7,180.3 191.2,177.7" fill="#8c3535" stroke="#8c3535" stroke-width="0.6"/>
<polygon points="180.4,186 186.9,188.4 197.7,180.3 191.2,177.7" class="m"/>
<polygon points="186.9,188.4 193.4,190.8 204.2,182.8" fill="#8c3535" stroke="#8c3535" stroke-width="0.6"/>
<polygon points="186.9,188.4 204.2,182.8 197.7,180.3" fill="#8c3535" stroke="#8c3535" stroke-width="0.6"/>
<polygon points="186.9,188.4 193.4,190.8 204.2,182.8 197.7,180.3" class="m"/>
<polygon points="193.4,190.8 199.9,193.2 210.7,185.4" fill="#8c3535" stroke="#8c3535" stroke-width="0.6"/>
<polygon points="193.4,190.8 210.7,185.4 204.2,182.8" fill="#8c3535" stroke="#8c3535" stroke-width="0.6"/>
<polygon points="193.4,190.8 199.9,193.2 210.7,185.4 204.2,182.8" class="m"/>
<polygon points="199.9,193.2 206.5,195.6 217.2,187.9" fill="#8c3535" stroke="#8c3535" stroke-width="0.6"/>
<polygon points="199.9,193.2 217.2,187.9 210.7,185.4" fill="#8c3535" stroke="#8c3535" stroke-width="0.6"/>
<polygon points="199.9,193.2 206.5,195.6 217.2,187.9 210.7,185.4" class="m"/>
<polygon points="206.5,195.6 213,198 223.8,190.4" fill="#8c3535" stroke="#8c3535" stroke-width="0.6"/>
<polygon points="206.5,195.6 223.8,190.4 217.2,187.9" fill="#8c3535" stroke="#8c3535" stroke-width="0.6"/>
<polygon points="206.5,195.6 213,198 223.8,190.4 217.2,187.9" class="m"/>
<polygon points="213,198 219.5,200.4 230.3,192.9" fill="#8c3535" stroke="#8c3535" stroke-width="0.6"/>
<polygon points="213,198 230.3,192.9 223.8,190.4" fill="#8c3535" stroke="#8c3535" stroke-width="0.6"/>
<polygon points="213,198 219.5,200.4 230.3,192.9 223.8,190.4" class="m"/>
<polygon points="78.5,164.7 85,167 95.8,154.2" fill="#863333" stroke="#863333" stroke-width="0.6"/>
<polygon points="78.5,164.7 95.8,154.2 89.3,151.6" fill="#853333" stroke="#853333" stroke-width="0.6"/>
<polygon points="78.5,164.7 85,167 95.8,154.2 89.3,151.6" class="m"/>
<polygon points="85,167 91.5,169.3 102.3,156.7" fill="#873333" stroke="#873333" stroke-width="0.6"/>
<polygon points="85,167 102.3,156.7 95.8,154.2" fill="#863333" stroke="#863333" stroke-width="0.6"/>
<polygon points="85,167 91.5,169.3 102.3,156.7 95.8,154.2" class="m"/>
<polygon points="91.5,169.3 98,171.6 108.8,159.2" fill="#873333" stroke="#873333" stroke-width="0.6"/>
<polygon points="91.5,169.3 108.8,159.2 102.3,156.7" fill="#873333" stroke="#873333" stroke-width="0.6"/>
<polygon points="91.5,169.3 98,171.6 108.8,159.2 102.3,156.7" class="m"/>
<polygon points="98,171.6 104.5,173.9 115.3,161.7" fill="#873333" stroke="#873333" stroke-width="0.6"/>
<polygon points="98,171.6 115.3,161.7 108.8,159.2" fill="#873333" stroke="#873333" stroke-width="0.6"/>
<polygon points="98,171.6 104.5,173.9 115.3,161.7 108.8,159.2" class="m"/>
<polygon points="104.5,173.9 111,176.1 121.8,164.1" fill="#883333" stroke="#883333" stroke-width="0.6"/>
<polygon points="104.5,173.9 121.8,164.1 115.3,161.7" fill="#873333" stroke="#873333" stroke-width="0.6"/>
<polygon points="104.5,173.9 111,176.1 121.8,164.1 115.3,161.7" class="m"/>
<polygon points="111,176.1 117.6,178.4 128.3,166.6" fill="#883434" stroke="#883434" stroke-width="0.6"/>
<polygon points="111,176.1 128.3,166.6 121.8,164.1" fill="#883333" stroke="#883333" stroke-width="0.6"/>
<polygon points="111,176.1 117.6,178.4 128.3,166.6 121.8,164.1" class="m"/>
<polygon points="117.6,178.4 124.1,180.7 134.8,169" fill="#893434" stroke="#893434" stroke-width="0.6"/>
<polygon points="117.6,178.4 134.8,169 128.3,166.6" fill="#883434" stroke="#883434" stroke-width="0.6"/>
<polygon points="117.6,178.4 124.1,180.7 134.8,169 128.3,166.6" class="m"/>
<polygon points="124.1,180.7 130.6,183 141.4,171.5" fill="#893434" stroke="#893434" stroke-width="0.6"/>
<polygon points="124.1,180.7 141.4,171.5 134.8,169" fill="#893434" stroke="#893434" stroke-width="0.6"/>
<polygon points="124.1,180.7 130.6,183 141.4,171.5 134.8,169" class="m"/>
<polygon points="130.6,183 137.1,185.3 147.9,173.9" fill="#893434" stroke="#893434" stroke-width="0.6"/>
<polygon points="130.6,183 147.9,173.9 141.4,171.5" fill="#893434" stroke="#893434" stroke-width="0.6"/>
<polygon points="130.6,183 137.1,185.3 147.9,173.9 141.4,171.5" class="m"/>
<polygon points="137.1,185.3 143.6,187.6 154.4,176.4" fill="#8a3434" stroke="#8a3434" stroke-width="0.6"/>
<polygon points="137.1,185.3 154.4,176.4 147.9,173.9" fill="#893434" stroke="#893434" stroke-width="0.6"/>
<polygon points="137.1,185.3 143.6,187.6 154.4,176.4 147.9,173.9" class="m"/>
<polygon points="143.6,187.6 150.1,189.9 160.9,178.8" fill="#8a3434" stroke="#8a3434" stroke-width="0.6"/>
<polygon points="143.6,187.6 160.9,178.8 154.4,176.4" fill="#8a3434" stroke="#8a3434" stroke-width="0.6"/>
<polygon points="143.6,187.6 150.1,189.9 160.9,178.8 154.4,176.4" class="m"/>
<polygon points="150.1,189.9 156.6,192.2 167.4,181.2" fill="#8a3434" stroke="#8a3434" stroke-width="0.6"/>
<polygon points="150.1,189.9 167.4,181.2 160.9,178.8" fill="#8a3434" stroke="#8a3434" stroke-width="0.6"/>
<polygon points="150.1,189.9 156.6,192.2 167.4,181.2 160.9,178.8" class="m"/>
<polygon points="156.6,192.2 163.1,194.5 173.9,183.6" fill="#8b3434" stroke="#8b3434" stroke-width="0.6"/>
<polygon points="156.6,192.2 173.9,183.6 167.4,181.2" fill="#8a3434" stroke="#8a3434" stroke-width="0.6"/>
<polygon points="156.6,192.2 163.1,194.5 173.9,183.6 167.4,181.2" class="m"/>
<polygon points="163.1,194.5 169.6,196.8 180.4,186" fill="#8b3535" stroke="#8b3535" stroke-width="0.6"/>
<polygon points="163.1,194.5 180.4,186 173.9,183.6" fill="#8b3434" stroke="#8b3434" stroke-width="0.6"/>
<polygon points="163.1,194.5 169.6,196.8 180.4,186 173.9,183.6" class="m"/>
<polygon points="169.6,196.8 176.1,199 186.9,188.4" fill="#8b3535" stroke="#8b3535" stroke-width="0.6"/>
<polygon points="169.6,196.8 186.9,188.4 180.4,186" fill="#8b3535" stroke="#8b3535" stroke-width="0.6"/>
<polygon points="169.6,196.8 176.1,199 186.9,188.4 180.4,186" class="m"/>
<polygon points="176.1,199 182.7,201.3 193.4,190.8" fill="#8b3535" stroke="#8b3535" stroke-width="0.6"/>
<polygon points="176.1,199 193.4,190.8 186.9,188.4" fill="#8b3535" stroke="#8b3535" stroke-width="0.6"/>
<polygon points="176.1,199 182.7,201.3 193.4,190.8 186.9,188.4" class="m"/>
<polygon points="182.7,201.3 189.2,203.6 199.9,193.2" fill="#8c3535" stroke="#8c3535" stroke-width="0.6"/>
<polygon points="182.7,201.3 199.9,193.2 193.4,190.8" fill="#8b3535" stroke="#8b3535" stroke-width="0.6"/>
<polygon points="182.7,201.3 189.2,203.6 199.9,193.2 193.4,190.8" class="m"/>
<polygon points="189.2,203.6 195.7,205.9 206.5,195.6" fill="#8c3535" stroke="#8c3535" stroke-width="0.6"/>
<polygon points="189.2,203.6 206.5,195.6 199.9,193.2" fill="#8c3535" stroke="#8c3535" stroke-width="0.6"/>
<polygon points="189.2,203.6 195.7,205.9 206.5,195.6 199.9,193.2" class="m"/>
<polygon points="195.7,205.9 202.2,208.2 213,198" fill="#8c3535" stroke="#8c3535" stroke-width="0.6"/>
<polygon points="195.7,205.9 213,198 206.5,195.6" fill="#8c3535" stroke="#8c3535" stroke-width="0.6"/>
<polygon points="195.7,205.9 202.2,208.2 213,198 206.5,195.6" class="m"/>
<polygon points="202.2,208.2 208.7,210.5 219.5,200.4" fill="#8c3535" stroke="#8c3535" stroke-width="0.6"/>
<polygon points="202.2,208.2 219.5,200.4 213,198" fill="#8c3535" stroke="#8c3535" stroke-width="0.6"/>
<polygon points="202.2,208.2 208.7,210.5 219.5,200.4 213,198" class="m"/>
<line x1="78.5" y1="165.2" x2="78.5" y2="69.7" class="ax"/>
<line x1="74.7" y1="164.7" x2="78.5" y2="164.7" class="az"/>
<text x="66.8" y="168.9" class="zl">0.0</text>
<line x1="75.9" y1="155.2" x2="78.5" y2="155.2" class="az"/>
<line x1="74.7" y1="145.8" x2="78.5" y2="145.8" class="az"/>
<text x="66.8" y="150" class="zl">0.2</text>
<line x1="75.9" y1="136.3" x2="78.5" y2="136.3" class="az"/>
<line x1="74.7" y1="126.9" x2="78.5" y2="126.9" class="az"/>
<text x="66.8" y="131.1" class="zl">0.4</text>
<line x1="75.9" y1="117.4" x2="78.5" y2="117.4" class="az"/>
<line x1="74.7" y1="108" x2="78.5" y2="108" class="az"/>
<text x="66.8" y="112.2" class="zl">0.6</text>
<line x1="75.9" y1="98.5" x2="78.5" y2="98.5" class="az"/>
<line x1="74.7" y1="89.1" x2="78.5" y2="89.1" class="az"/>
<text x="66.8" y="93.3" class="zl">0.8</text>
<line x1="75.9" y1="79.6" x2="78.5" y2="79.6" class="az"/>
<line x1="74.7" y1="70.2" x2="78.5" y2="70.2" class="az"/>
<text x="66.8" y="74.4" class="zl">1.0</text>
<line x1="78.5" y1="164.7" x2="78.5" y2="168.3" class="tk"/>
<line x1="85" y1="167" x2="85" y2="170.6" class="tk"/>
<line x1="91.5" y1="169.3" x2="91.5" y2="172.9" class="tk"/>
<line x1="98" y1="171.6" x2="98" y2="175.2" class="tk"/>
<line x1="104.5" y1="173.9" x2="104.5" y2="177.5" class="tk"/>
<line x1="111" y1="176.1" x2="111" y2="179.7" class="tk"/>
<line x1="117.6" y1="178.4" x2="117.6" y2="182" class="tk"/>
<line x1="124.1" y1="180.7" x2="124.1" y2="184.3" class="tk"/>
<line x1="130.6" y1="183" x2="130.6" y2="186.6" class="tk"/>
<line x1="137.1" y1="185.3" x2="137.1" y2="188.9" class="tk"/>
<line x1="143.6" y1="187.6" x2="143.6" y2="191.2" class="tk"/>
<line x1="150.1" y1="189.9" x2="150.1" y2="193.5" class="tk"/>
<line x1="156.6" y1="192.2" x2="156.6" y2="195.8" class="tk"/>
<line x1="163.1" y1="194.5" x2="163.1" y2="198.1" class="tk"/>
<line x1="169.6" y1="196.8" x2="169.6" y2="200.4" class="tk"/>
<line x1="176.1" y1="199" x2="176.1" y2="202.6" class="tk"/>
<line x1="182.7" y1="201.3" x2="182.7" y2="204.9" class="tk"/>
<line x1="189.2" y1="203.6" x2="189.2" y2="207.2" class="tk"/>
<line x1="195.7" y1="205.9" x2="195.7" y2="209.5" class="tk"/>
<line x1="202.2" y1="208.2" x2="202.2" y2="211.8" class="tk"/>
<line x1="208.7" y1="210.5" x2="208.7" y2="214.1" class="tk"/>
<line x1="208.7" y1="210.5" x2="208.7" y2="214.1" class="tk"/>
<line x1="219.5" y1="205.1" x2="219.5" y2="208.7" class="tk"/>
<line x1="230.3" y1="199.7" x2="230.3" y2="203.3" class="tk"/>
<line x1="241" y1="194.3" x2="241" y2="197.9" class="tk"/>
<line x1="251.8" y1="188.9" x2="251.8" y2="192.5" class="tk"/>
<line x1="262.6" y1="183.5" x2="262.6" y2="187.1" class="tk"/>
<line x1="273.4" y1="178.1" x2="273.4" y2="181.7" class="tk"/>
<line x1="284.2" y1="172.7" x2="284.2" y2="176.3" class="tk"/>
<line x1="294.9" y1="167.3" x2="294.9" y2="170.9" class="tk"/>
<line x1="305.7" y1="161.9" x2="305.7" y2="165.5" class="tk"/>
<line x1="316.5" y1="156.5" x2="316.5" y2="160.1" class="tk"/>
<text transform="translate(72.5 180.3) rotate(-63)" class="tl">0.0</text>
<text transform="translate(215.6 225.8) rotate(62)" class="tl">0.0</text>
<text transform="translate(98.5 189.5) rotate(-63)" class="tl">0.2</text>
<text transform="translate(237.2 215) rotate(62)" class="tl">0.2</text>
<text transform="translate(124.6 198.6) rotate(-63)" class="tl">0.4</text>
<text transform="translate(258.7 204.2) rotate(62)" class="tl">0.4</text>
<text transform="translate(150.6 207.8) rotate(-63)" class="tl">0.6</text>
<text transform="translate(280.3 193.4) rotate(62)" class="tl">0.6</text>
<text transform="translate(176.7 216.9) rotate(-63)" class="tl">0.8</text>
<text transform="translate(301.8 182.6) rotate(62)" class="tl">0.8</text>
<text transform="translate(202.7 226.1) rotate(-63)" class="tl">1.0</text>
<text transform="translate(323.4 171.8) rotate(62)" class="tl">1.0</text>
<polygon points="78.6,395.3 186.4,341.3 316.6,387.1 208.8,441.1" fill="#ece5e7"/>
<polygon points="78.6,395.3 78.6,301.1 186.4,247.1 186.4,341.3" fill="#d5cfd0"/>
<polygon points="186.4,341.3 186.4,247.1 316.6,292.9 316.6,387.1" fill="#646161"/>
<polyline points="78.6,376.5 186.4,322.5 316.6,368.3" class="g"/>
<polyline points="78.6,357.6 186.4,303.6 316.6,349.4" class="g"/>
<polyline points="78.6,338.8 186.4,284.8 316.6,330.6" class="g"/>
<polyline points="78.6,319.9 186.4,265.9 316.6,311.7" class="g"/>
<polyline points="78.6,301.1 186.4,247.1 316.6,292.9" class="t"/>
<line x1="208.8" y1="441.1" x2="316.6" y2="387.1" class="fa"/>
<polygon points="175.6,252.6 182.1,256.7 192.9,250.4" fill="#eb9999" stroke="#eb9999" stroke-width="0.6"/>
<polygon points="175.6,252.6 192.9,250.4 186.4,247.1" fill="#da8e8e" stroke="#da8e8e" stroke-width="0.6"/>
<polygon points="175.6,252.6 182.1,256.7 192.9,250.4 186.4,247.1" class="m"/>
<polygon points="182.1,256.7 188.6,262.9 199.4,256" fill="#f4b4b4" stroke="#f4b4b4" stroke-width="0.6"/>
<polygon points="182.1,256.7 199.4,256 192.9,250.4" fill="#f3aeae" stroke="#f3aeae" stroke-width="0.6"/>
<polygon points="182.1,256.7 188.6,262.9 199.4,256 192.9,250.4" class="m"/>
<polygon points="188.6,262.9 195.1,270.1 205.9,262.9" fill="#f5b9b9" stroke="#f5b9b9" stroke-width="0.6"/>
<polygon points="188.6,262.9 205.9,262.9 199.4,256" fill="#f5b8b8" stroke="#f5b8b8" stroke-width="0.6"/>
<polygon points="188.6,262.9 195.1,270.1 205.9,262.9 199.4,256" class="m"/>
<polygon points="195.1,270.1 201.7,277.4 212.4,270.2" fill="#f5baba" stroke="#f5baba" stroke-width="0.6"/>
<polygon points="195.1,270.1 212.4,270.2 205.9,262.9" fill="#f5baba" stroke="#f5baba" stroke-width="0.6"/>
<polygon points="195.1,270.1 201.7,277.4 212.4,270.2 205.9,262.9" class="m"/>
<polygon points="205.9,282 208.2,284.5 218.8,277.5" fill="#e69797" stroke="#e69797" stroke-width="0.6"/>
<polygon points="201.7,277.4 205.9,282 218.8,277.5 218.9,277.4" fill="#f5b9b9" stroke="#f5b9b9" stroke-width="0.6"/>
<polygon points="201.7,277.4 218.9,277.4 212.4,270.2" fill="#f5b9b9" stroke="#f5b9b9" stroke-width="0.6"/>
<polygon points="201.7,277.4 208.2,284.5 218.9,277.4 212.4,270.2" class="m"/>
<polygon points="208.2,284.5 214.7,291.2 225.5,284.3" fill="#e59595" stroke="#e59595" stroke-width="0.6"/>
<polygon points="208.2,284.5 225.5,284.3 219,277.4 218.8,277.5" fill="#e69696" stroke="#e69696" stroke-width="0.6"/>
<polygon points="219,277.4 218.9,277.4 218.8,277.5" fill="#f5b8b8" stroke="#f5b8b8" stroke-width="0.6"/>
<polygon points="208.2,284.5 214.7,291.2 225.5,284.3 218.9,277.4" class="m"/>
<polygon points="214.7,291.2 221.2,297.6 232,290.8" fill="#e59191" stroke="#e59191" stroke-width="0.6"/>
<polygon points="214.7,291.2 232,290.8 225.5,284.3" fill="#e59292" stroke="#e59292" stroke-width="0.6"/>
<polygon points="214.7,291.2 221.2,297.6 232,290.8 225.5,284.3" class="m"/>
<polygon points="221.2,297.6 227.7,303.6 238.5,296.9" fill="#e48d8d" stroke="#e48d8d" stroke-width="0.6"/>
<polygon points="221.2,297.6 238.5,296.9 232,290.8" fill="#e48e8e" stroke="#e48e8e" stroke-width="0.6"/>
<polygon points="221.2,297.6 227.7,303.6 238.5,296.9 232,290.8" class="m"/>
<polygon points="227.7,303.6 234.2,309.3 245,302.7" fill="#e28787" stroke="#e28787" stroke-width="0.6"/>
<polygon points="227.7,303.6 245,302.7 238.5,296.9" fill="#e38989" stroke="#e38989" stroke-width="0.6"/>
<polygon points="227.7,303.6 234.2,309.3 245,302.7 238.5,296.9" class="m"/>
<polygon points="237.4,311.9 240.7,314.6 251.5,308.2 247.3,308.4" fill="#d96b6b" stroke="#d96b6b" stroke-width="0.6"/>
<polygon points="234.2,309.3 237.4,311.9 247.3,308.4" fill="#e18181" stroke="#e18181" stroke-width="0.6"/>
<polygon points="247.3,308.4 251.5,308.2 250.5,307.3" fill="#da6e6e" stroke="#da6e6e" stroke-width="0.6"/>
<polygon points="234.2,309.3 247.3,308.4 250.5,307.3 245,302.7" fill="#e18484" stroke="#e18484" stroke-width="0.6"/>
<polygon points="234.2,309.3 240.7,314.6 251.5,308.2 245,302.7" class="m"/>
<polygon points="240.7,314.6 247.2,319.7 258,313.3" fill="#d76464" stroke="#d76464" stroke-width="0.6"/>
<polygon points="240.7,314.6 258,313.3 251.5,308.2" fill="#d86666" stroke="#d86666" stroke-width="0.6"/>
<polygon points="240.7,314.6 247.2,319.7 258,313.3 251.5,308.2" class="m"/>
<polygon points="247.2,319.7 253.7,324.5 264.5,318.2" fill="#d55c5c" stroke="#d55c5c" stroke-width="0.6"/>
<polygon points="247.2,319.7 264.5,318.2 258,313.3" fill="#d65f5f" stroke="#d65f5f" stroke-width="0.6"/>
<polygon points="247.2,319.7 253.7,324.5 264.5,318.2 258,313.3" class="m"/>
<polygon points="253.7,324.5 260.2,329.1 271,322.9" fill="#d35454" stroke="#d35454" stroke-width="0.6"/>
<polygon points="253.7,324.5 271,322.9 264.5,318.2" fill="#d45757" stroke="#d45757" stroke-width="0.6"/>
<polygon points="253.7,324.5 260.2,329.1 271,322.9 264.5,318.2" class="m"/>
<polygon points="260.2,329.1 266.8,333.5 277.5,327.4" fill="#d15252" stroke="#d15252" stroke-width="0.6"/>
<polygon points="260.2,329.1 277.5,327.4 271,322.9" fill="#d25353" stroke="#d25353" stroke-width="0.6"/>
<polygon points="260.2,329.1 266.8,333.5 277.5,327.4 271,322.9" class="m"/>
<polygon points="266.8,333.5 273.3,337.8 284.1,331.7" fill="#cf5151" stroke="#cf5151" stroke-width="0.6"/>
<polygon points="266.8,333.5 284.1,331.7 277.5,327.4" fill="#d05252" stroke="#d05252" stroke-width="0.6"/>
<polygon points="266.8,333.5 273.3,337.8 284.1,331.7 277.5,327.4" class="m"/>
<polygon points="273.3,337.8 279.8,341.8 290.6,335.8" fill="#cd5151" stroke="#cd5151" stroke-width="0.6"/>
<polygon points="273.3,337.8 290.6,335.8 284.1,331.7" fill="#ce5151" stroke="#ce5151" stroke-width="0.6"/>
<polygon points="273.3,337.8 279.8,341.8 290.6,335.8 284.1,331.7" class="m"/>
<polygon points="279.8,341.8 286.3,345.8 297.1,339.8" fill="#cb5050" stroke="#cb5050" stroke-width="0.6"/>
<polygon points="279.8,341.8 297.1,339.8 290.6,335.8" fill="#cb5050" stroke="#cb5050" stroke-width="0.6"/>
<polygon points="279.8,341.8 286.3,345.8 297.1,339.8 290.6,335.8" class="m"/>
<polygon points="286.3,345.8 292.8,349.6 303.6,343.7" fill="#c94f4f" stroke="#c94f4f" stroke-width="0.6"/>
<polygon points="286.3,345.8 303.6,343.7 297.1,339.8" fill="#c94f4f" stroke="#c94f4f" stroke-width="0.6"/>
<polygon points="286.3,345.8 292.8,349.6 303.6,343.7 297.1,339.8" class="m"/>
<polygon points="295.7,351.3 299.3,353.3 310.1,347.4 304.8,348.1" fill="#ad3e3e" stroke="#ad3e3e" stroke-width="0.6"/>
<polygon points="292.8,349.6 295.7,351.3 304.8,348.1" fill="#c74e4e" stroke="#c74e4e" stroke-width="0.6"/>
<polygon points="304.8,348.1 310.1,347.4 308.8,346.7" fill="#ad3e3e" stroke="#ad3e3e" stroke-width="0.6"/>
<polygon points="292.8,349.6 304.8,348.1 308.8,346.7 303.6,343.7" fill="#c84f4f" stroke="#c84f4f" stroke-width="0.6"/>
<polygon points="292.8,349.6 299.3,353.3 310.1,347.4 303.6,343.7" class="m"/>
<polygon points="299.3,353.3 305.8,356.9 316.6,351.1" fill="#ab3e3e" stroke="#ab3e3e" stroke-width="0.6"/>
<polygon points="299.3,353.3 316.6,351.1 310.1,347.4" fill="#ac3e3e" stroke="#ac3e3e" stroke-width="0.6"/>
<polygon points="299.3,353.3 305.8,356.9 316.6,351.1 310.1,347.4" class="m"/>
<polygon points="164.8,258.5 171.4,263.7 182.1,256.7" fill="#f3a8a8" stroke="#f3a8a8" stroke-width="0.6"/>
<polygon points="164.8,258.5 182.1,256.7 175.6,252.6" fill="#eb9999" stroke="#eb9999" stroke-width="0.6"/>
<polygon points="164.8,258.5 171.4,263.7 182.1,256.7 175.6,252.6" class="m"/>
<polygon points="171.4,263.7 177.9,270.5 188.6,262.9" fill="#f5b7b7" stroke="#f5b7b7" stroke-width="0.6"/>
<polygon points="171.4,263.7 188.6,262.9 182.1,256.7" fill="#f4b4b4" stroke="#f4b4b4" stroke-width="0.6"/>
<polygon points="171.4,263.7 177.9,270.5 188.6,262.9 182.1,256.7" class="m"/>
<polygon points="177.9,270.5 184.4,277.7 195.1,270.1" fill="#f5b9b9" stroke="#f5b9b9" stroke-width="0.6"/>
<polygon points="177.9,270.5 195.1,270.1 188.6,262.9" fill="#f5b9b9" stroke="#f5b9b9" stroke-width="0.6"/>
<polygon points="177.9,270.5 184.4,277.7 195.1,270.1 188.6,262.9" class="m"/>
<polygon points="184.4,277.7 190.9,285 201.7,277.4" fill="#f5b9b9" stroke="#f5b9b9" stroke-width="0.6"/>
<polygon points="184.4,277.7 201.7,277.4 195.1,270.1" fill="#f5b9b9" stroke="#f5b9b9" stroke-width="0.6"/>
<polygon points="184.4,277.7 190.9,285 201.7,277.4 195.1,270.1" class="m"/>
<polygon points="192.2,286.4 197.4,291.9 208.2,284.5 197.1,284.8" fill="#e69696" stroke="#e69696" stroke-width="0.6"/>
<polygon points="190.9,285 192.2,286.4 197.1,284.8" fill="#f5b8b8" stroke="#f5b8b8" stroke-width="0.6"/>
<polygon points="197.1,284.8 208.2,284.5 205.9,282" fill="#e69696" stroke="#e69696" stroke-width="0.6"/>
<polygon points="190.9,285 197.1,284.8 205.9,282 201.7,277.4" fill="#f5b9b9" stroke="#f5b9b9" stroke-width="0.6"/>
<polygon points="190.9,285 197.4,291.9 208.2,284.5 201.7,277.4" class="m"/>
<polygon points="197.4,291.9 203.9,298.5 214.7,291.2" fill="#e59393" stroke="#e59393" stroke-width="0.6"/>
<polygon points="197.4,291.9 214.7,291.2 208.2,284.5" fill="#e59494" stroke="#e59494" stroke-width="0.6"/>
<polygon points="197.4,291.9 203.9,298.5 214.7,291.2 208.2,284.5" class="m"/>
<polygon points="203.9,298.5 210.4,304.7 221.2,297.6" fill="#e48f8f" stroke="#e48f8f" stroke-width="0.6"/>
<polygon points="203.9,298.5 221.2,297.6 214.7,291.2" fill="#e59191" stroke="#e59191" stroke-width="0.6"/>
<polygon points="203.9,298.5 210.4,304.7 221.2,297.6 214.7,291.2" class="m"/>
<polygon points="210.4,304.7 216.9,310.6 227.7,303.6" fill="#e38a8a" stroke="#e38a8a" stroke-width="0.6"/>
<polygon points="210.4,304.7 227.7,303.6 221.2,297.6" fill="#e48c8c" stroke="#e48c8c" stroke-width="0.6"/>
<polygon points="210.4,304.7 216.9,310.6 227.7,303.6 221.2,297.6" class="m"/>
<polygon points="216.9,310.6 223.4,316.1 234.2,309.3" fill="#e28585" stroke="#e28585" stroke-width="0.6"/>
<polygon points="216.9,310.6 234.2,309.3 227.7,303.6" fill="#e28787" stroke="#e28787" stroke-width="0.6"/>
<polygon points="216.9,310.6 223.4,316.1 234.2,309.3 227.7,303.6" class="m"/>
<polygon points="223.6,316.3 229.9,321.3 240.7,314.6 224.5,316" fill="#d86868" stroke="#d86868" stroke-width="0.6"/>
<polygon points="223.4,316.1 223.6,316.3 224.5,316" fill="#e07f7f" stroke="#e07f7f" stroke-width="0.6"/>
<polygon points="224.5,316 240.7,314.6 237.4,311.9" fill="#d96b6b" stroke="#d96b6b" stroke-width="0.6"/>
<polygon points="223.4,316.1 224.5,316 237.4,311.9 234.2,309.3" fill="#e18181" stroke="#e18181" stroke-width="0.6"/>
<polygon points="223.4,316.1 229.9,321.3 240.7,314.6 234.2,309.3" class="m"/>
<polygon points="229.9,321.3 236.4,326.3 247.2,319.7" fill="#d66060" stroke="#d66060" stroke-width="0.6"/>
<polygon points="229.9,321.3 247.2,319.7 240.7,314.6" fill="#d76464" stroke="#d76464" stroke-width="0.6"/>
<polygon points="229.9,321.3 236.4,326.3 247.2,319.7 240.7,314.6" class="m"/>
<polygon points="236.4,326.3 243,331 253.7,324.5" fill="#d45959" stroke="#d45959" stroke-width="0.6"/>
<polygon points="236.4,326.3 253.7,324.5 247.2,319.7" fill="#d55c5c" stroke="#d55c5c" stroke-width="0.6"/>
<polygon points="236.4,326.3 243,331 253.7,324.5 247.2,319.7" class="m"/>
<polygon points="243,331 249.5,335.5 260.2,329.1" fill="#d25353" stroke="#d25353" stroke-width="0.6"/>
<polygon points="243,331 260.2,329.1 253.7,324.5" fill="#d35555" stroke="#d35555" stroke-width="0.6"/>
<polygon points="243,331 249.5,335.5 260.2,329.1 253.7,324.5" class="m"/>
<polygon points="249.5,335.5 256,339.8 266.8,333.5" fill="#d05252" stroke="#d05252" stroke-width="0.6"/>
<polygon points="249.5,335.5 266.8,333.5 260.2,329.1" fill="#d15252" stroke="#d15252" stroke-width="0.6"/>
<polygon points="249.5,335.5 256,339.8 266.8,333.5 260.2,329.1" class="m"/>
<polygon points="256,339.8 262.5,344 273.3,337.8" fill="#ce5151" stroke="#ce5151" stroke-width="0.6"/>
<polygon points="256,339.8 273.3,337.8 266.8,333.5" fill="#cf5151" stroke="#cf5151" stroke-width="0.6"/>
<polygon points="256,339.8 262.5,344 273.3,337.8 266.8,333.5" class="m"/>
<polygon points="262.5,344 269,348 279.8,341.8" fill="#cc5050" stroke="#cc5050" stroke-width="0.6"/>
<polygon points="262.5,344 279.8,341.8 273.3,337.8" fill="#cd5151" stroke="#cd5151" stroke-width="0.6"/>
<polygon points="262.5,344 269,348 279.8,341.8 273.3,337.8" class="m"/>
<polygon points="269,348 275.5,351.9 286.3,345.8" fill="#ca4f4f" stroke="#ca4f4f" stroke-width="0.6"/>
<polygon points="269,348 286.3,345.8 279.8,341.8" fill="#cb5050" stroke="#cb5050" stroke-width="0.6"/>
<polygon points="269,348 275.5,351.9 286.3,345.8 279.8,341.8" class="m"/>
<polygon points="282,355.6 282,355.7 282.3,355.5" fill="#ae3f3f" stroke="#ae3f3f" stroke-width="0.6"/>
<polygon points="275.5,351.9 282,355.6 282.3,355.5 292.8,349.6" fill="#c84f4f" stroke="#c84f4f" stroke-width="0.6"/>
<polygon points="275.5,351.9 292.8,349.6 286.3,345.8" fill="#c94f4f" stroke="#c94f4f" stroke-width="0.6"/>
<polygon points="275.5,351.9 282,355.7 292.8,349.6 286.3,345.8" class="m"/>
<polygon points="282,355.7 288.5,359.3 299.3,353.3" fill="#ac3e3e" stroke="#ac3e3e" stroke-width="0.6"/>
<polygon points="282,355.7 299.3,353.3 295.7,351.3 282.3,355.5" fill="#ad3e3e" stroke="#ad3e3e" stroke-width="0.6"/>
<polygon points="295.7,351.3 292.8,349.6 282.3,355.5" fill="#c74e4e" stroke="#c74e4e" stroke-width="0.6"/>
<polygon points="282,355.7 288.5,359.3 299.3,353.3 292.8,349.6" class="m"/>
<polygon points="288.5,359.3 295,362.9 305.8,356.9" fill="#ab3e3e" stroke="#ab3e3e" stroke-width="0.6"/>
<polygon points="288.5,359.3 305.8,356.9 299.3,353.3" fill="#ab3e3e" stroke="#ab3e3e" stroke-width="0.6"/>
<polygon points="288.5,359.3 295,362.9 305.8,356.9 299.3,353.3" class="m"/>
<polygon points="154.1,265.3 160.6,271.6 171.4,263.7" fill="#f4b3b3" stroke="#f4b3b3" stroke-width="0.6"/>
<polygon points="154.1,265.3 171.4,263.7 164.8,258.5" fill="#f3a8a8" stroke="#f3a8a8" stroke-width="0.6"/>
<polygon points="154.1,265.3 160.6,271.6 171.4,263.7 164.8,258.5" class="m"/>
<polygon points="160.6,271.6 167.1,278.7 177.9,270.5" fill="#f5b8b8" stroke="#f5b8b8" stroke-width="0.6"/>
<polygon points="160.6,271.6 177.9,270.5 171.4,263.7" fill="#f5b7b7" stroke="#f5b7b7" stroke-width="0.6"/>
<polygon points="160.6,271.6 167.1,278.7 177.9,270.5 171.4,263.7" class="m"/>
<polygon points="167.1,278.7 173.6,286 184.4,277.7" fill="#f5b9b9" stroke="#f5b9b9" stroke-width="0.6"/>
<polygon points="167.1,278.7 184.4,277.7 177.9,270.5" fill="#f5b9b9" stroke="#f5b9b9" stroke-width="0.6"/>
<polygon points="167.1,278.7 173.6,286 184.4,277.7 177.9,270.5" class="m"/>
<polygon points="177.7,290.4 180.1,293.1 187.2,287.8" fill="#e69595" stroke="#e69595" stroke-width="0.6"/>
<polygon points="173.6,286 177.7,290.4 187.2,287.8 190.9,285" fill="#f5b8b8" stroke="#f5b8b8" stroke-width="0.6"/>
<polygon points="173.6,286 190.9,285 184.4,277.7" fill="#f5b8b8" stroke="#f5b8b8" stroke-width="0.6"/>
<polygon points="173.6,286 180.1,293.1 190.9,285 184.4,277.7" class="m"/>
<polygon points="180.1,293.1 186.6,299.9 197.4,291.9" fill="#e59393" stroke="#e59393" stroke-width="0.6"/>
<polygon points="180.1,293.1 197.4,291.9 192.2,286.4 187.2,287.8" fill="#e59494" stroke="#e59494" stroke-width="0.6"/>
<polygon points="192.2,286.4 190.9,285 187.2,287.8" fill="#f5b7b7" stroke="#f5b7b7" stroke-width="0.6"/>
<polygon points="180.1,293.1 186.6,299.9 197.4,291.9 190.9,285" class="m"/>
<polygon points="186.6,299.9 193.1,306.2 203.9,298.5" fill="#e49090" stroke="#e49090" stroke-width="0.6"/>
<polygon points="186.6,299.9 203.9,298.5 197.4,291.9" fill="#e59292" stroke="#e59292" stroke-width="0.6"/>
<polygon points="186.6,299.9 193.1,306.2 203.9,298.5 197.4,291.9" class="m"/>
<polygon points="193.1,306.2 199.6,312.2 210.4,304.7" fill="#e38c8c" stroke="#e38c8c" stroke-width="0.6"/>
<polygon points="193.1,306.2 210.4,304.7 203.9,298.5" fill="#e48e8e" stroke="#e48e8e" stroke-width="0.6"/>
<polygon points="193.1,306.2 199.6,312.2 210.4,304.7 203.9,298.5" class="m"/>
<polygon points="199.6,312.2 206.1,317.9 216.9,310.6" fill="#e28787" stroke="#e28787" stroke-width="0.6"/>
<polygon points="199.6,312.2 216.9,310.6 210.4,304.7" fill="#e38a8a" stroke="#e38a8a" stroke-width="0.6"/>
<polygon points="199.6,312.2 206.1,317.9 216.9,310.6 210.4,304.7" class="m"/>
<polygon points="209.2,320.4 212.6,323.2 222.8,316.5" fill="#d96b6b" stroke="#d96b6b" stroke-width="0.6"/>
<polygon points="206.1,317.9 209.2,320.4 222.8,316.5 223.4,316.1" fill="#e18181" stroke="#e18181" stroke-width="0.6"/>
<polygon points="206.1,317.9 223.4,316.1 216.9,310.6" fill="#e28484" stroke="#e28484" stroke-width="0.6"/>
<polygon points="206.1,317.9 212.6,323.2 223.4,316.1 216.9,310.6" class="m"/>
<polygon points="212.6,323.2 219.2,328.3 229.9,321.3" fill="#d76363" stroke="#d76363" stroke-width="0.6"/>
<polygon points="212.6,323.2 229.9,321.3 223.6,316.3 222.8,316.5" fill="#d86868" stroke="#d86868" stroke-width="0.6"/>
<polygon points="223.6,316.3 223.4,316.1 222.8,316.5" fill="#e07e7e" stroke="#e07e7e" stroke-width="0.6"/>
<polygon points="212.6,323.2 219.2,328.3 229.9,321.3 223.4,316.1" class="m"/>
<polygon points="219.2,328.3 225.7,333.1 236.4,326.3" fill="#d55c5c" stroke="#d55c5c" stroke-width="0.6"/>
<polygon points="219.2,328.3 236.4,326.3 229.9,321.3" fill="#d66060" stroke="#d66060" stroke-width="0.6"/>
<polygon points="219.2,328.3 225.7,333.1 236.4,326.3 229.9,321.3" class="m"/>
<polygon points="225.7,333.1 232.2,337.7 243,331" fill="#d35454" stroke="#d35454" stroke-width="0.6"/>
<polygon points="225.7,333.1 243,331 236.4,326.3" fill="#d45959" stroke="#d45959" stroke-width="0.6"/>
<polygon points="225.7,333.1 232.2,337.7 243,331 236.4,326.3" class="m"/>
<polygon points="232.2,337.7 238.7,342.1 249.5,335.5" fill="#d15252" stroke="#d15252" stroke-width="0.6"/>
<polygon points="232.2,337.7 249.5,335.5 243,331" fill="#d25353" stroke="#d25353" stroke-width="0.6"/>
<polygon points="232.2,337.7 238.7,342.1 249.5,335.5 243,331" class="m"/>
<polygon points="238.7,342.1 245.2,346.3 256,339.8" fill="#cf5151" stroke="#cf5151" stroke-width="0.6"/>
<polygon points="238.7,342.1 256,339.8 249.5,335.5" fill="#d05252" stroke="#d05252" stroke-width="0.6"/>
<polygon points="238.7,342.1 245.2,346.3 256,339.8 249.5,335.5" class="m"/>
<polygon points="245.2,346.3 251.7,350.4 262.5,344" fill="#cd5151" stroke="#cd5151" stroke-width="0.6"/>
<polygon points="245.2,346.3 262.5,344 256,339.8" fill="#ce5151" stroke="#ce5151" stroke-width="0.6"/>
<polygon points="245.2,346.3 251.7,350.4 262.5,344 256,339.8" class="m"/>
<polygon points="251.7,350.4 258.2,354.3 269,348" fill="#cb5050" stroke="#cb5050" stroke-width="0.6"/>
<polygon points="251.7,350.4 269,348 262.5,344" fill="#cc5050" stroke="#cc5050" stroke-width="0.6"/>
<polygon points="251.7,350.4 258.2,354.3 269,348 262.5,344" class="m"/>
<polygon points="258.2,354.3 264.7,358.2 275.5,351.9" fill="#c94f4f" stroke="#c94f4f" stroke-width="0.6"/>
<polygon points="258.2,354.3 275.5,351.9 269,348" fill="#ca4f4f" stroke="#ca4f4f" stroke-width="0.6"/>
<polygon points="258.2,354.3 264.7,358.2 275.5,351.9 269,348" class="m"/>
<polygon points="267.5,359.7 271.2,361.9 282,355.7 281.6,355.7" fill="#ad3e3e" stroke="#ad3e3e" stroke-width="0.6"/>
<polygon points="264.7,358.2 267.5,359.7 281.6,355.7" fill="#c74e4e" stroke="#c74e4e" stroke-width="0.6"/>
<polygon points="281.6,355.7 282,355.7 282,355.6" fill="#ae3f3f" stroke="#ae3f3f" stroke-width="0.6"/>
<polygon points="264.7,358.2 281.6,355.7 282,355.6 275.5,351.9" fill="#c84f4f" stroke="#c84f4f" stroke-width="0.6"/>
<polygon points="264.7,358.2 271.2,361.9 282,355.7 275.5,351.9" class="m"/>
<polygon points="271.2,361.9 277.7,365.5 288.5,359.3" fill="#ab3e3e" stroke="#ab3e3e" stroke-width="0.6"/>
<polygon points="271.2,361.9 288.5,359.3 282,355.7" fill="#ac3e3e" stroke="#ac3e3e" stroke-width="0.6"/>
<polygon points="271.2,361.9 277.7,365.5 288.5,359.3 282,355.7" class="m"/>
<polygon points="277.7,365.5 284.3,369 295,362.9" fill="#aa3d3d" stroke="#aa3d3d" stroke-width="0.6"/>
<polygon points="277.7,365.5 295,362.9 288.5,359.3" fill="#ab3e3e" stroke="#ab3e3e" stroke-width="0.6"/>
<polygon points="277.7,365.5 284.3,369 295,362.9 288.5,359.3" class="m"/>
<polygon points="143.3,273.7 149.8,280.7 160.6,271.6" fill="#f4b5b5" stroke="#f4b5b5" stroke-width="0.6"/>
<polygon points="143.3,273.7 160.6,271.6 154.1,265.3" fill="#f4b2b2" stroke="#f4b2b2" stroke-width="0.6"/>
<polygon points="143.3,273.7 149.8,280.7 160.6,271.6 154.1,265.3" class="m"/>
<polygon points="149.8,280.7 156.3,288 167.1,278.7" fill="#f5b6b6" stroke="#f5b6b6" stroke-width="0.6"/>
<polygon points="149.8,280.7 167.1,278.7 160.6,271.6" fill="#f5b6b6" stroke="#f5b6b6" stroke-width="0.6"/>
<polygon points="149.8,280.7 156.3,288 167.1,278.7 160.6,271.6" class="m"/>
<polygon points="161.8,294.1 162.8,295.1 164.9,293.4" fill="#e59292" stroke="#e59292" stroke-width="0.6"/>
<polygon points="156.3,288 161.8,294.1 164.9,293.4 173.6,286" fill="#f5b6b6" stroke="#f5b6b6" stroke-width="0.6"/>
<polygon points="156.3,288 173.6,286 167.1,278.7" fill="#f5b6b6" stroke="#f5b6b6" stroke-width="0.6"/>
<polygon points="156.3,288 162.8,295.1 173.6,286 167.1,278.7" class="m"/>
<polygon points="162.8,295.1 169.3,302 180.1,293.1" fill="#e59191" stroke="#e59191" stroke-width="0.6"/>
<polygon points="162.8,295.1 180.1,293.1 177.7,290.4 164.9,293.4" fill="#e59292" stroke="#e59292" stroke-width="0.6"/>
<polygon points="177.7,290.4 173.6,286 164.9,293.4" fill="#f5b6b6" stroke="#f5b6b6" stroke-width="0.6"/>
<polygon points="162.8,295.1 169.3,302 180.1,293.1 173.6,286" class="m"/>
<polygon points="169.3,302 175.8,308.4 186.6,299.9" fill="#e48e8e" stroke="#e48e8e" stroke-width="0.6"/>
<polygon points="169.3,302 186.6,299.9 180.1,293.1" fill="#e49090" stroke="#e49090" stroke-width="0.6"/>
<polygon points="169.3,302 175.8,308.4 186.6,299.9 180.1,293.1" class="m"/>
<polygon points="175.8,308.4 182.3,314.5 193.1,306.2" fill="#e38b8b" stroke="#e38b8b" stroke-width="0.6"/>
<polygon points="175.8,308.4 193.1,306.2 186.6,299.9" fill="#e48d8d" stroke="#e48d8d" stroke-width="0.6"/>
<polygon points="175.8,308.4 182.3,314.5 193.1,306.2 186.6,299.9" class="m"/>
<polygon points="182.3,314.5 188.8,320.2 199.6,312.2" fill="#e28686" stroke="#e28686" stroke-width="0.6"/>
<polygon points="182.3,314.5 199.6,312.2 193.1,306.2" fill="#e38a8a" stroke="#e38a8a" stroke-width="0.6"/>
<polygon points="182.3,314.5 188.8,320.2 199.6,312.2 193.1,306.2" class="m"/>
<polygon points="193.4,324 195.4,325.7 199.7,322.5" fill="#d96b6b" stroke="#d96b6b" stroke-width="0.6"/>
<polygon points="188.8,320.2 193.4,324 199.7,322.5 206.1,317.9" fill="#e18181" stroke="#e18181" stroke-width="0.6"/>
<polygon points="188.8,320.2 206.1,317.9 199.6,312.2" fill="#e28585" stroke="#e28585" stroke-width="0.6"/>
<polygon points="188.8,320.2 195.4,325.7 206.1,317.9 199.6,312.2" class="m"/>
<polygon points="195.4,325.7 201.9,330.8 212.6,323.2" fill="#d76464" stroke="#d76464" stroke-width="0.6"/>
<polygon points="195.4,325.7 212.6,323.2 209.2,320.4 199.7,322.5" fill="#d96969" stroke="#d96969" stroke-width="0.6"/>
<polygon points="209.2,320.4 206.1,317.9 199.7,322.5" fill="#e08080" stroke="#e08080" stroke-width="0.6"/>
<polygon points="195.4,325.7 201.9,330.8 212.6,323.2 206.1,317.9" class="m"/>
<polygon points="201.9,330.8 208.4,335.7 219.2,328.3" fill="#d65d5d" stroke="#d65d5d" stroke-width="0.6"/>
<polygon points="201.9,330.8 219.2,328.3 212.6,323.2" fill="#d76262" stroke="#d76262" stroke-width="0.6"/>
<polygon points="201.9,330.8 208.4,335.7 219.2,328.3 212.6,323.2" class="m"/>
<polygon points="208.4,335.7 214.9,340.3 225.7,333.1" fill="#d45656" stroke="#d45656" stroke-width="0.6"/>
<polygon points="208.4,335.7 225.7,333.1 219.2,328.3" fill="#d55b5b" stroke="#d55b5b" stroke-width="0.6"/>
<polygon points="208.4,335.7 214.9,340.3 225.7,333.1 219.2,328.3" class="m"/>
<polygon points="214.9,340.3 221.4,344.7 232.2,337.7" fill="#d25252" stroke="#d25252" stroke-width="0.6"/>
<polygon points="214.9,340.3 232.2,337.7 225.7,333.1" fill="#d35454" stroke="#d35454" stroke-width="0.6"/>
<polygon points="214.9,340.3 221.4,344.7 232.2,337.7 225.7,333.1" class="m"/>
<polygon points="221.4,344.7 227.9,349 238.7,342.1" fill="#cf5252" stroke="#cf5252" stroke-width="0.6"/>
<polygon points="221.4,344.7 238.7,342.1 232.2,337.7" fill="#d15252" stroke="#d15252" stroke-width="0.6"/>
<polygon points="221.4,344.7 227.9,349 238.7,342.1 232.2,337.7" class="m"/>
<polygon points="227.9,349 234.4,353.1 245.2,346.3" fill="#cd5151" stroke="#cd5151" stroke-width="0.6"/>
<polygon points="227.9,349 245.2,346.3 238.7,342.1" fill="#cf5151" stroke="#cf5151" stroke-width="0.6"/>
<polygon points="227.9,349 234.4,353.1 245.2,346.3 238.7,342.1" class="m"/>
<polygon points="234.4,353.1 240.9,357.1 251.7,350.4" fill="#cb5050" stroke="#cb5050" stroke-width="0.6"/>
<polygon points="234.4,353.1 251.7,350.4 245.2,346.3" fill="#cd5151" stroke="#cd5151" stroke-width="0.6"/>
<polygon points="234.4,353.1 240.9,357.1 251.7,350.4 245.2,346.3" class="m"/>
<polygon points="240.9,357.1 247.4,360.9 258.2,354.3" fill="#c94f4f" stroke="#c94f4f" stroke-width="0.6"/>
<polygon points="240.9,357.1 258.2,354.3 251.7,350.4" fill="#cb5050" stroke="#cb5050" stroke-width="0.6"/>
<polygon points="240.9,357.1 247.4,360.9 258.2,354.3 251.7,350.4" class="m"/>
<polygon points="251.7,363.3 253.9,364.7 258.9,361.7" fill="#ad3e3e" stroke="#ad3e3e" stroke-width="0.6"/>
<polygon points="247.4,360.9 251.7,363.3 258.9,361.7 264.7,358.2" fill="#c84f4f" stroke="#c84f4f" stroke-width="0.6"/>
<polygon points="247.4,360.9 264.7,358.2 258.2,354.3" fill="#c94f4f" stroke="#c94f4f" stroke-width="0.6"/>
<polygon points="247.4,360.9 253.9,364.7 264.7,358.2 258.2,354.3" class="m"/>
<polygon points="253.9,364.7 260.5,368.3 271.2,361.9" fill="#ac3e3e" stroke="#ac3e3e" stroke-width="0.6"/>
<polygon points="253.9,364.7 271.2,361.9 267.5,359.7 258.9,361.7" fill="#ad3e3e" stroke="#ad3e3e" stroke-width="0.6"/>
<polygon points="267.5,359.7 264.7,358.2 258.9,361.7" fill="#c74e4e" stroke="#c74e4e" stroke-width="0.6"/>
<polygon points="253.9,364.7 260.5,368.3 271.2,361.9 264.7,358.2" class="m"/>
<polygon points="260.5,368.3 267,371.8 277.7,365.5" fill="#aa3d3d" stroke="#aa3d3d" stroke-width="0.6"/>
<polygon points="260.5,368.3 277.7,365.5 271.2,361.9" fill="#ab3e3e" stroke="#ab3e3e" stroke-width="0.6"/>
<polygon points="260.5,368.3 267,371.8 277.7,365.5 271.2,361.9" class="m"/>
<polygon points="267,371.8 273.5,375.3 284.3,369" fill="#a93d3d" stroke="#a93d3d" stroke-width="0.6"/>
<polygon points="267,371.8 284.3,369 277.7,365.5" fill="#aa3d3d" stroke="#aa3d3d" stroke-width="0.6"/>
<polygon points="267,371.8 273.5,375.3 284.3,369 277.7,365.5" class="m"/>
<polygon points="132.5,284.2 139,291.5 149.8,280.7" fill="#f4b1b1" stroke="#f4b1b1" stroke-width="0.6"/>
<polygon points="132.5,284.2 149.8,280.7 143.3,273.7" fill="#f4b0b0" stroke="#f4b0b0" stroke-width="0.6"/>
<polygon points="132.5,284.2 139,291.5 149.8,280.7 143.3,273.7" class="m"/>
<polygon points="144,297 145.5,298.6 147.8,296.4" fill="#e38a8a" stroke="#e38a8a" stroke-width="0.6"/>
<polygon points="139,291.5 144,297 147.8,296.4 156.3,288" fill="#f4b1b1" stroke="#f4b1b1" stroke-width="0.6"/>
<polygon points="139,291.5 156.3,288 149.8,280.7" fill="#f4b1b1" stroke="#f4b1b1" stroke-width="0.6"/>
<polygon points="139,291.5 145.5,298.6 156.3,288 149.8,280.7" class="m"/>
<polygon points="145.5,298.6 152,305.4 162.8,295.1" fill="#e38989" stroke="#e38989" stroke-width="0.6"/>
<polygon points="145.5,298.6 162.8,295.1 161.8,294.1 147.8,296.4" fill="#e38a8a" stroke="#e38a8a" stroke-width="0.6"/>
<polygon points="161.8,294.1 156.3,288 147.8,296.4" fill="#f4b1b1" stroke="#f4b1b1" stroke-width="0.6"/>
<polygon points="145.5,298.6 152,305.4 162.8,295.1 156.3,288" class="m"/>
<polygon points="152,305.4 158.5,311.9 169.3,302" fill="#e28787" stroke="#e28787" stroke-width="0.6"/>
<polygon points="152,305.4 169.3,302 162.8,295.1" fill="#e38989" stroke="#e38989" stroke-width="0.6"/>
<polygon points="152,305.4 158.5,311.9 169.3,302 162.8,295.1" class="m"/>
<polygon points="158.5,311.9 165,317.9 175.8,308.4" fill="#e28585" stroke="#e28585" stroke-width="0.6"/>
<polygon points="158.5,311.9 175.8,308.4 169.3,302" fill="#e28888" stroke="#e28888" stroke-width="0.6"/>
<polygon points="158.5,311.9 165,317.9 175.8,308.4 169.3,302" class="m"/>
<polygon points="165,317.9 171.6,323.6 182.3,314.5" fill="#e18181" stroke="#e18181" stroke-width="0.6"/>
<polygon points="165,317.9 182.3,314.5 175.8,308.4" fill="#e28585" stroke="#e28585" stroke-width="0.6"/>
<polygon points="165,317.9 171.6,323.6 182.3,314.5 175.8,308.4" class="m"/>
<polygon points="175.6,326.9 178.1,329 181.9,325.9" fill="#d86565" stroke="#d86565" stroke-width="0.6"/>
<polygon points="171.6,323.6 175.6,326.9 181.9,325.9 188.8,320.2" fill="#e07d7d" stroke="#e07d7d" stroke-width="0.6"/>
<polygon points="171.6,323.6 188.8,320.2 182.3,314.5" fill="#e18181" stroke="#e18181" stroke-width="0.6"/>
<polygon points="171.6,323.6 178.1,329 188.8,320.2 182.3,314.5" class="m"/>
<polygon points="178.1,329 184.6,334.1 195.4,325.7" fill="#d66060" stroke="#d66060" stroke-width="0.6"/>
<polygon points="178.1,329 195.4,325.7 193.4,324 181.9,325.9" fill="#d86666" stroke="#d86666" stroke-width="0.6"/>
<polygon points="193.4,324 188.8,320.2 181.9,325.9" fill="#e07d7d" stroke="#e07d7d" stroke-width="0.6"/>
<polygon points="178.1,329 184.6,334.1 195.4,325.7 188.8,320.2" class="m"/>
<polygon points="184.6,334.1 191.1,339 201.9,330.8" fill="#d55959" stroke="#d55959" stroke-width="0.6"/>
<polygon points="184.6,334.1 201.9,330.8 195.4,325.7" fill="#d66060" stroke="#d66060" stroke-width="0.6"/>
<polygon points="184.6,334.1 191.1,339 201.9,330.8 195.4,325.7" class="m"/>
<polygon points="191.1,339 197.6,343.6 208.4,335.7" fill="#d35353" stroke="#d35353" stroke-width="0.6"/>
<polygon points="191.1,339 208.4,335.7 201.9,330.8" fill="#d55a5a" stroke="#d55a5a" stroke-width="0.6"/>
<polygon points="191.1,339 197.6,343.6 208.4,335.7 201.9,330.8" class="m"/>
<polygon points="197.6,343.6 204.1,348 214.9,340.3" fill="#d15252" stroke="#d15252" stroke-width="0.6"/>
<polygon points="197.6,343.6 214.9,340.3 208.4,335.7" fill="#d35353" stroke="#d35353" stroke-width="0.6"/>
<polygon points="197.6,343.6 204.1,348 214.9,340.3 208.4,335.7" class="m"/>
<polygon points="204.1,348 210.6,352.3 221.4,344.7" fill="#cf5151" stroke="#cf5151" stroke-width="0.6"/>
<polygon points="204.1,348 221.4,344.7 214.9,340.3" fill="#d15252" stroke="#d15252" stroke-width="0.6"/>
<polygon points="204.1,348 210.6,352.3 221.4,344.7 214.9,340.3" class="m"/>
<polygon points="210.6,352.3 217.1,356.4 227.9,349" fill="#cd5151" stroke="#cd5151" stroke-width="0.6"/>
<polygon points="210.6,352.3 227.9,349 221.4,344.7" fill="#cf5151" stroke="#cf5151" stroke-width="0.6"/>
<polygon points="210.6,352.3 217.1,356.4 227.9,349 221.4,344.7" class="m"/>
<polygon points="217.1,356.4 223.6,360.3 234.4,353.1" fill="#cb5050" stroke="#cb5050" stroke-width="0.6"/>
<polygon points="217.1,356.4 234.4,353.1 227.9,349" fill="#cd5151" stroke="#cd5151" stroke-width="0.6"/>
<polygon points="217.1,356.4 223.6,360.3 234.4,353.1 227.9,349" class="m"/>
<polygon points="223.6,360.3 230.2,364.2 240.9,357.1" fill="#c94f4f" stroke="#c94f4f" stroke-width="0.6"/>
<polygon points="223.6,360.3 240.9,357.1 234.4,353.1" fill="#cb5050" stroke="#cb5050" stroke-width="0.6"/>
<polygon points="223.6,360.3 230.2,364.2 240.9,357.1 234.4,353.1" class="m"/>
<polygon points="233.9,366.3 236.7,367.9 240.9,365.1" fill="#ad3e3e" stroke="#ad3e3e" stroke-width="0.6"/>
<polygon points="230.2,364.2 233.9,366.3 240.9,365.1 247.4,360.9" fill="#c84e4e" stroke="#c84e4e" stroke-width="0.6"/>
<polygon points="230.2,364.2 247.4,360.9 240.9,357.1" fill="#c94f4f" stroke="#c94f4f" stroke-width="0.6"/>
<polygon points="230.2,364.2 236.7,367.9 247.4,360.9 240.9,357.1" class="m"/>
<polygon points="236.7,367.9 243.2,371.5 253.9,364.7" fill="#ac3e3e" stroke="#ac3e3e" stroke-width="0.6"/>
<polygon points="236.7,367.9 253.9,364.7 251.7,363.3 240.9,365.1" fill="#ad3e3e" stroke="#ad3e3e" stroke-width="0.6"/>
<polygon points="251.7,363.3 247.4,360.9 240.9,365.1" fill="#c84f4f" stroke="#c84f4f" stroke-width="0.6"/>
<polygon points="236.7,367.9 243.2,371.5 253.9,364.7 247.4,360.9" class="m"/>
<polygon points="243.2,371.5 249.7,375 260.5,368.3" fill="#aa3d3d" stroke="#aa3d3d" stroke-width="0.6"/>
<polygon points="243.2,371.5 260.5,368.3 253.9,364.7" fill="#ac3e3e" stroke="#ac3e3e" stroke-width="0.6"/>
<polygon points="243.2,371.5 249.7,375 260.5,368.3 253.9,364.7" class="m"/>
<polygon points="249.7,375 256.2,378.5 267,371.8" fill="#a93d3d" stroke="#a93d3d" stroke-width="0.6"/>
<polygon points="249.7,375 267,371.8 260.5,368.3" fill="#aa3d3d" stroke="#aa3d3d" stroke-width="0.6"/>
<polygon points="249.7,375 256.2,378.5 267,371.8 260.5,368.3" class="m"/>
<polygon points="256.2,378.5 262.7,381.9 273.5,375.3" fill="#a83d3d" stroke="#a83d3d" stroke-width="0.6"/>
<polygon points="256.2,378.5 273.5,375.3 267,371.8" fill="#a93d3d" stroke="#a93d3d" stroke-width="0.6"/>
<polygon points="256.2,378.5 262.7,381.9 273.5,375.3 267,371.8" class="m"/>
<polygon points="122.7,298.7 128.2,304.6 133.8,297.9" fill="#de7575" stroke="#de7575" stroke-width="0.6"/>
<polygon points="121.7,297.6 122.7,298.7 133.8,297.9 139,291.5" fill="#f2a3a3" stroke="#f2a3a3" stroke-width="0.6"/>
<polygon points="121.7,297.6 139,291.5 132.5,284.2" fill="#f2a3a3" stroke="#f2a3a3" stroke-width="0.6"/>
<polygon points="121.7,297.6 128.2,304.6 139,291.5 132.5,284.2" class="m"/>
<polygon points="128.2,304.6 134.7,311.2 145.5,298.6" fill="#de7575" stroke="#de7575" stroke-width="0.6"/>
<polygon points="128.2,304.6 145.5,298.6 144,297 133.8,297.9" fill="#df7878" stroke="#df7878" stroke-width="0.6"/>
<polygon points="144,297 139,291.5 133.8,297.9" fill="#f2a4a4" stroke="#f2a4a4" stroke-width="0.6"/>
<polygon points="128.2,304.6 134.7,311.2 145.5,298.6 139,291.5" class="m"/>
<polygon points="134.7,311.2 141.2,317.3 152,305.4" fill="#de7575" stroke="#de7575" stroke-width="0.6"/>
<polygon points="134.7,311.2 152,305.4 145.5,298.6" fill="#df7878" stroke="#df7878" stroke-width="0.6"/>
<polygon points="134.7,311.2 141.2,317.3 152,305.4 145.5,298.6" class="m"/>
<polygon points="141.2,317.3 147.8,323.2 158.5,311.9" fill="#de7373" stroke="#de7373" stroke-width="0.6"/>
<polygon points="141.2,317.3 158.5,311.9 152,305.4" fill="#df7878" stroke="#df7878" stroke-width="0.6"/>
<polygon points="141.2,317.3 147.8,323.2 158.5,311.9 152,305.4" class="m"/>
<polygon points="154.2,328.6 154.3,328.7 154.4,328.6" fill="#d45858" stroke="#d45858" stroke-width="0.6"/>
<polygon points="147.8,323.2 154.2,328.6 154.4,328.6 165,317.9" fill="#dd7171" stroke="#dd7171" stroke-width="0.6"/>
<polygon points="147.8,323.2 165,317.9 158.5,311.9" fill="#de7777" stroke="#de7777" stroke-width="0.6"/>
<polygon points="147.8,323.2 154.3,328.7 165,317.9 158.5,311.9" class="m"/>
<polygon points="154.3,328.7 160.8,333.9 167.4,327.6 154.7,328.5" fill="#d35555" stroke="#d35555" stroke-width="0.6"/>
<polygon points="167.4,327.6 171.6,323.6 154.7,328.5" fill="#dc6f6f" stroke="#dc6f6f" stroke-width="0.6"/>
<polygon points="154.3,328.7 154.7,328.5 154.4,328.6" fill="#d65d5d" stroke="#d65d5d" stroke-width="0.6"/>
<polygon points="154.7,328.5 171.6,323.6 165,317.9 154.4,328.6" fill="#de7575" stroke="#de7575" stroke-width="0.6"/>
<polygon points="154.3,328.7 160.8,333.9 171.6,323.6 165,317.9" class="m"/>
<polygon points="160.8,333.9 167.3,338.8 178.1,329" fill="#d25353" stroke="#d25353" stroke-width="0.6"/>
<polygon points="160.8,333.9 178.1,329 175.6,326.9 167.4,327.6" fill="#d55a5a" stroke="#d55a5a" stroke-width="0.6"/>
<polygon points="175.6,326.9 171.6,323.6 167.4,327.6" fill="#dd7373" stroke="#dd7373" stroke-width="0.6"/>
<polygon points="160.8,333.9 167.3,338.8 178.1,329 171.6,323.6" class="m"/>
<polygon points="167.3,338.8 173.8,343.5 184.6,334.1" fill="#d15252" stroke="#d15252" stroke-width="0.6"/>
<polygon points="167.3,338.8 184.6,334.1 178.1,329" fill="#d45656" stroke="#d45656" stroke-width="0.6"/>
<polygon points="167.3,338.8 173.8,343.5 184.6,334.1 178.1,329" class="m"/>
<polygon points="173.8,343.5 180.3,348 191.1,339" fill="#cf5252" stroke="#cf5252" stroke-width="0.6"/>
<polygon points="173.8,343.5 191.1,339 184.6,334.1" fill="#d25353" stroke="#d25353" stroke-width="0.6"/>
<polygon points="173.8,343.5 180.3,348 191.1,339 184.6,334.1" class="m"/>
<polygon points="180.3,348 186.8,352.4 197.6,343.6" fill="#ce5151" stroke="#ce5151" stroke-width="0.6"/>
<polygon points="180.3,348 197.6,343.6 191.1,339" fill="#d15252" stroke="#d15252" stroke-width="0.6"/>
<polygon points="180.3,348 186.8,352.4 197.6,343.6 191.1,339" class="m"/>
<polygon points="186.8,352.4 193.3,356.5 204.1,348" fill="#cc5050" stroke="#cc5050" stroke-width="0.6"/>
<polygon points="186.8,352.4 204.1,348 197.6,343.6" fill="#cf5252" stroke="#cf5252" stroke-width="0.6"/>
<polygon points="186.8,352.4 193.3,356.5 204.1,348 197.6,343.6" class="m"/>
<polygon points="193.3,356.5 199.8,360.5 210.6,352.3" fill="#cb5050" stroke="#cb5050" stroke-width="0.6"/>
<polygon points="193.3,356.5 210.6,352.3 204.1,348" fill="#ce5151" stroke="#ce5151" stroke-width="0.6"/>
<polygon points="193.3,356.5 199.8,360.5 210.6,352.3 204.1,348" class="m"/>
<polygon points="199.8,360.5 206.3,364.4 217.1,356.4" fill="#c94f4f" stroke="#c94f4f" stroke-width="0.6"/>
<polygon points="199.8,360.5 217.1,356.4 210.6,352.3" fill="#cc5050" stroke="#cc5050" stroke-width="0.6"/>
<polygon points="199.8,360.5 206.3,364.4 217.1,356.4 210.6,352.3" class="m"/>
<polygon points="212.5,367.9 212.9,368.2 213.2,367.9" fill="#ad3e3e" stroke="#ad3e3e" stroke-width="0.6"/>
<polygon points="206.3,364.4 212.5,367.9 213.2,367.9 223.6,360.3" fill="#c84e4e" stroke="#c84e4e" stroke-width="0.6"/>
<polygon points="206.3,364.4 223.6,360.3 217.1,356.4" fill="#ca5050" stroke="#ca5050" stroke-width="0.6"/>
<polygon points="206.3,364.4 212.9,368.2 223.6,360.3 217.1,356.4" class="m"/>
<polygon points="212.9,368.2 219.4,371.8 226.3,366.9 214.5,367.8" fill="#ac3e3e" stroke="#ac3e3e" stroke-width="0.6"/>
<polygon points="226.3,366.9 230.2,364.2 214.5,367.8" fill="#c64e4e" stroke="#c64e4e" stroke-width="0.6"/>
<polygon points="212.9,368.2 214.5,367.8 213.2,367.9" fill="#ae3f3f" stroke="#ae3f3f" stroke-width="0.6"/>
<polygon points="214.5,367.8 230.2,364.2 223.6,360.3 213.2,367.9" fill="#c94f4f" stroke="#c94f4f" stroke-width="0.6"/>
<polygon points="212.9,368.2 219.4,371.8 230.2,364.2 223.6,360.3" class="m"/>
<polygon points="219.4,371.8 225.9,375.4 236.7,367.9" fill="#ab3e3e" stroke="#ab3e3e" stroke-width="0.6"/>
<polygon points="219.4,371.8 236.7,367.9 233.9,366.3 226.3,366.9" fill="#ad3e3e" stroke="#ad3e3e" stroke-width="0.6"/>
<polygon points="233.9,366.3 230.2,364.2 226.3,366.9" fill="#c74e4e" stroke="#c74e4e" stroke-width="0.6"/>
<polygon points="219.4,371.8 225.9,375.4 236.7,367.9 230.2,364.2" class="m"/>
<polygon points="225.9,375.4 232.4,378.9 243.2,371.5" fill="#a93d3d" stroke="#a93d3d" stroke-width="0.6"/>
<polygon points="225.9,375.4 243.2,371.5 236.7,367.9" fill="#ab3e3e" stroke="#ab3e3e" stroke-width="0.6"/>
<polygon points="225.9,375.4 232.4,378.9 243.2,371.5 236.7,367.9" class="m"/>
<polygon points="232.4,378.9 238.9,382.3 249.7,375" fill="#a83d3d" stroke="#a83d3d" stroke-width="0.6"/>
<polygon points="232.4,378.9 249.7,375 243.2,371.5" fill="#aa3d3d" stroke="#aa3d3d" stroke-width="0.6"/>
<polygon points="232.4,378.9 238.9,382.3 249.7,375 243.2,371.5" class="m"/>
<polygon points="238.9,382.3 245.4,385.6 256.2,378.5" fill="#a73c3c" stroke="#a73c3c" stroke-width="0.6"/>
<polygon points="238.9,382.3 256.2,378.5 249.7,375" fill="#a93d3d" stroke="#a93d3d" stroke-width="0.6"/>
<polygon points="238.9,382.3 245.4,385.6 256.2,378.5 249.7,375" class="m"/>
<polygon points="245.4,385.6 251.9,388.9 262.7,381.9" fill="#a63c3c" stroke="#a63c3c" stroke-width="0.6"/>
<polygon points="245.4,385.6 262.7,381.9 256.2,378.5" fill="#a83d3d" stroke="#a83d3d" stroke-width="0.6"/>
<polygon points="245.4,385.6 251.9,388.9 262.7,381.9 256.2,378.5" class="m"/>
<polygon points="110.9,314.7 117.4,320.7 128.2,304.6" fill="#ce6666" stroke="#ce6666" stroke-width="0.6"/>
<polygon points="110.9,314.7 128.2,304.6 122.7,298.7 121.1,298.7" fill="#d16868" stroke="#d16868" stroke-width="0.6"/>
<polygon points="122.7,298.7 121.7,297.6 121.1,298.7" fill="#e59595" stroke="#e59595" stroke-width="0.6"/>
<polygon points="110.9,314.7 117.4,320.7 128.2,304.6 121.7,297.6" class="m"/>
<polygon points="117.4,320.7 124,326.3 134.7,311.2" fill="#ce6666" stroke="#ce6666" stroke-width="0.6"/>
<polygon points="117.4,320.7 134.7,311.2 128.2,304.6" fill="#d26868" stroke="#d26868" stroke-width="0.6"/>
<polygon points="117.4,320.7 124,326.3 134.7,311.2 128.2,304.6" class="m"/>
<polygon points="125.9,327.8 130.5,331.6 133.1,328.2" fill="#c74e4e" stroke="#c74e4e" stroke-width="0.6"/>
<polygon points="124,326.3 125.9,327.8 133.1,328.2 141.2,317.3" fill="#cf6767" stroke="#cf6767" stroke-width="0.6"/>
<polygon points="124,326.3 141.2,317.3 134.7,311.2" fill="#d36969" stroke="#d36969" stroke-width="0.6"/>
<polygon points="124,326.3 130.5,331.6 141.2,317.3 134.7,311.2" class="m"/>
<polygon points="130.5,331.6 137,336.6 143.5,328.5 137.4,328.2" fill="#c74e4e" stroke="#c74e4e" stroke-width="0.6"/>
<polygon points="143.5,328.5 147.8,323.2 137.4,328.2" fill="#d06767" stroke="#d06767" stroke-width="0.6"/>
<polygon points="130.5,331.6 137.4,328.2 133.1,328.2" fill="#cb5050" stroke="#cb5050" stroke-width="0.6"/>
<polygon points="137.4,328.2 147.8,323.2 141.2,317.3 133.1,328.2" fill="#d46969" stroke="#d46969" stroke-width="0.6"/>
<polygon points="130.5,331.6 137,336.6 147.8,323.2 141.2,317.3" class="m"/>
<polygon points="137,336.6 143.5,341.4 154.3,328.7" fill="#c74e4e" stroke="#c74e4e" stroke-width="0.6"/>
<polygon points="137,336.6 154.3,328.7 154.2,328.6 143.5,328.5" fill="#cb5050" stroke="#cb5050" stroke-width="0.6"/>
<polygon points="154.2,328.6 147.8,323.2 143.5,328.5" fill="#d46969" stroke="#d46969" stroke-width="0.6"/>
<polygon points="137,336.6 143.5,341.4 154.3,328.7 147.8,323.2" class="m"/>
<polygon points="143.5,341.4 150,345.9 160.8,333.9" fill="#c74e4e" stroke="#c74e4e" stroke-width="0.6"/>
<polygon points="143.5,341.4 160.8,333.9 154.3,328.7" fill="#cc5050" stroke="#cc5050" stroke-width="0.6"/>
<polygon points="143.5,341.4 150,345.9 160.8,333.9 154.3,328.7" class="m"/>
<polygon points="150,345.9 156.5,350.3 167.3,338.8" fill="#c74e4e" stroke="#c74e4e" stroke-width="0.6"/>
<polygon points="150,345.9 167.3,338.8 160.8,333.9" fill="#cb5050" stroke="#cb5050" stroke-width="0.6"/>
<polygon points="150,345.9 156.5,350.3 167.3,338.8 160.8,333.9" class="m"/>
<polygon points="156.5,350.3 163,354.5 173.8,343.5" fill="#c64e4e" stroke="#c64e4e" stroke-width="0.6"/>
<polygon points="156.5,350.3 173.8,343.5 167.3,338.8" fill="#cb5050" stroke="#cb5050" stroke-width="0.6"/>
<polygon points="156.5,350.3 163,354.5 173.8,343.5 167.3,338.8" class="m"/>
<polygon points="163,354.5 169.5,358.6 180.3,348" fill="#c64e4e" stroke="#c64e4e" stroke-width="0.6"/>
<polygon points="163,354.5 180.3,348 173.8,343.5" fill="#ca5050" stroke="#ca5050" stroke-width="0.6"/>
<polygon points="163,354.5 169.5,358.6 180.3,348 173.8,343.5" class="m"/>
<polygon points="169.5,358.6 176,362.5 186.8,352.4" fill="#c54e4e" stroke="#c54e4e" stroke-width="0.6"/>
<polygon points="169.5,358.6 186.8,352.4 180.3,348" fill="#c94f4f" stroke="#c94f4f" stroke-width="0.6"/>
<polygon points="169.5,358.6 176,362.5 186.8,352.4 180.3,348" class="m"/>
<polygon points="176,362.5 182.5,366.3 193.3,356.5" fill="#c44d4d" stroke="#c44d4d" stroke-width="0.6"/>
<polygon points="176,362.5 193.3,356.5 186.8,352.4" fill="#c84f4f" stroke="#c84f4f" stroke-width="0.6"/>
<polygon points="176,362.5 182.5,366.3 193.3,356.5 186.8,352.4" class="m"/>
<polygon points="184.2,367.2 189.1,370 191.9,367.5" fill="#aa3d3d" stroke="#aa3d3d" stroke-width="0.6"/>
<polygon points="182.5,366.3 184.2,367.2 191.9,367.5 199.8,360.5" fill="#c34d4d" stroke="#c34d4d" stroke-width="0.6"/>
<polygon points="182.5,366.3 199.8,360.5 193.3,356.5" fill="#c74e4e" stroke="#c74e4e" stroke-width="0.6"/>
<polygon points="182.5,366.3 189.1,370 199.8,360.5 193.3,356.5" class="m"/>
<polygon points="189.1,370 195.6,373.5 202.4,367.8 196.5,367.6" fill="#a93d3d" stroke="#a93d3d" stroke-width="0.6"/>
<polygon points="202.4,367.8 206.3,364.4 196.5,367.6" fill="#c34d4d" stroke="#c34d4d" stroke-width="0.6"/>
<polygon points="189.1,370 196.5,367.6 191.9,367.5" fill="#ac3e3e" stroke="#ac3e3e" stroke-width="0.6"/>
<polygon points="196.5,367.6 206.3,364.4 199.8,360.5 191.9,367.5" fill="#c64e4e" stroke="#c64e4e" stroke-width="0.6"/>
<polygon points="189.1,370 195.6,373.5 206.3,364.4 199.8,360.5" class="m"/>
<polygon points="195.6,373.5 202.1,377 212.9,368.2" fill="#a83d3d" stroke="#a83d3d" stroke-width="0.6"/>
<polygon points="195.6,373.5 212.9,368.2 212.5,367.9 202.4,367.8" fill="#ab3e3e" stroke="#ab3e3e" stroke-width="0.6"/>
<polygon points="212.5,367.9 206.3,364.4 202.4,367.8" fill="#c54e4e" stroke="#c54e4e" stroke-width="0.6"/>
<polygon points="195.6,373.5 202.1,377 212.9,368.2 206.3,364.4" class="m"/>
<polygon points="202.1,377 208.6,380.5 219.4,371.8" fill="#a73c3c" stroke="#a73c3c" stroke-width="0.6"/>
<polygon points="202.1,377 219.4,371.8 212.9,368.2" fill="#aa3d3d" stroke="#aa3d3d" stroke-width="0.6"/>
<polygon points="202.1,377 208.6,380.5 219.4,371.8 212.9,368.2" class="m"/>
<polygon points="208.6,380.5 215.1,383.8 225.9,375.4" fill="#a63c3c" stroke="#a63c3c" stroke-width="0.6"/>
<polygon points="208.6,380.5 225.9,375.4 219.4,371.8" fill="#a93d3d" stroke="#a93d3d" stroke-width="0.6"/>
<polygon points="208.6,380.5 215.1,383.8 225.9,375.4 219.4,371.8" class="m"/>
<polygon points="215.1,383.8 221.6,387.1 232.4,378.9" fill="#a63c3c" stroke="#a63c3c" stroke-width="0.6"/>
<polygon points="215.1,383.8 232.4,378.9 225.9,375.4" fill="#a83d3d" stroke="#a83d3d" stroke-width="0.6"/>
<polygon points="215.1,383.8 221.6,387.1 232.4,378.9 225.9,375.4" class="m"/>
<polygon points="221.6,387.1 228.1,390.3 238.9,382.3" fill="#a53b3b" stroke="#a53b3b" stroke-width="0.6"/>
<polygon points="221.6,387.1 238.9,382.3 232.4,378.9" fill="#a73c3c" stroke="#a73c3c" stroke-width="0.6"/>
<polygon points="221.6,387.1 228.1,390.3 238.9,382.3 232.4,378.9" class="m"/>
<polygon points="228.1,390.3 234.6,393.5 245.4,385.6" fill="#a43b3b" stroke="#a43b3b" stroke-width="0.6"/>
<polygon points="228.1,390.3 245.4,385.6 238.9,382.3" fill="#a73c3c" stroke="#a73c3c" stroke-width="0.6"/>
<polygon points="228.1,390.3 234.6,393.5 245.4,385.6 238.9,382.3" class="m"/>
<polygon points="234.6,393.5 241.1,396.6 251.9,388.9" fill="#a33b3b" stroke="#a33b3b" stroke-width="0.6"/>
<polygon points="234.6,393.5 251.9,388.9 245.4,385.6" fill="#a63c3c" stroke="#a63c3c" stroke-width="0.6"/>
<polygon points="234.6,393.5 241.1,396.6 251.9,388.9 245.4,385.6" class="m"/>
<polygon points="100.2,336.2 106.7,340.7 114.4,326.4 111.6,325.9" fill="#aa4343" stroke="#aa4343" stroke-width="0.6"/>
<polygon points="114.4,326.4 117.4,320.7 111.6,325.9" fill="#b25858" stroke="#b25858" stroke-width="0.6"/>
<polygon points="100.2,336.2 111.6,325.9 105.7,325.2" fill="#b34747" stroke="#b34747" stroke-width="0.6"/>
<polygon points="111.6,325.9 117.4,320.7 110.9,314.7 105.7,325.2" fill="#bb5d5d" stroke="#bb5d5d" stroke-width="0.6"/>
<polygon points="100.2,336.2 106.7,340.7 117.4,320.7 110.9,314.7" class="m"/>
<polygon points="106.7,340.7 113.2,345 123.3,327.5 122.6,327.4" fill="#ac4444" stroke="#ac4444" stroke-width="0.6"/>
<polygon points="123.3,327.5 124,326.3 122.6,327.4" fill="#b45959" stroke="#b45959" stroke-width="0.6"/>
<polygon points="106.7,340.7 122.6,327.4 114.4,326.4" fill="#b54747" stroke="#b54747" stroke-width="0.6"/>
<polygon points="122.6,327.4 124,326.3 117.4,320.7 114.4,326.4" fill="#bd5d5d" stroke="#bd5d5d" stroke-width="0.6"/>
<polygon points="106.7,340.7 113.2,345 124,326.3 117.4,320.7" class="m"/>
<polygon points="113.2,345 119.7,349.2 130.5,331.6" fill="#ae4545" stroke="#ae4545" stroke-width="0.6"/>
<polygon points="113.2,345 130.5,331.6 125.9,327.8 123.3,327.5" fill="#b64848" stroke="#b64848" stroke-width="0.6"/>
<polygon points="125.9,327.8 124,326.3 123.3,327.5" fill="#be5e5e" stroke="#be5e5e" stroke-width="0.6"/>
<polygon points="113.2,345 119.7,349.2 130.5,331.6 124,326.3" class="m"/>
<polygon points="119.7,349.2 126.2,353.2 137,336.6" fill="#b04545" stroke="#b04545" stroke-width="0.6"/>
<polygon points="119.7,349.2 137,336.6 130.5,331.6" fill="#b84848" stroke="#b84848" stroke-width="0.6"/>
<polygon points="119.7,349.2 126.2,353.2 137,336.6 130.5,331.6" class="m"/>
<polygon points="126.2,353.2 132.7,357 143.5,341.4" fill="#b14646" stroke="#b14646" stroke-width="0.6"/>
<polygon points="126.2,353.2 143.5,341.4 137,336.6" fill="#b94949" stroke="#b94949" stroke-width="0.6"/>
<polygon points="126.2,353.2 132.7,357 143.5,341.4 137,336.6" class="m"/>
<polygon points="138.2,360.2 139.2,360.8 139.5,360.4" fill="#9b3838" stroke="#9b3838" stroke-width="0.6"/>
<polygon points="132.7,357 138.2,360.2 139.5,360.4 150,345.9" fill="#b34646" stroke="#b34646" stroke-width="0.6"/>
<polygon points="132.7,357 150,345.9 143.5,341.4" fill="#ba4949" stroke="#ba4949" stroke-width="0.6"/>
<polygon points="132.7,357 139.2,360.8 150,345.9 143.5,341.4" class="m"/>
<polygon points="139.2,360.8 145.7,364.4 147.7,361.9 139.7,360.5" fill="#9c3838" stroke="#9c3838" stroke-width="0.6"/>
<polygon points="147.7,361.9 156.5,350.3 139.7,360.5" fill="#b44747" stroke="#b44747" stroke-width="0.6"/>
<polygon points="139.2,360.8 139.7,360.5 139.5,360.4" fill="#a23a3a" stroke="#a23a3a" stroke-width="0.6"/>
<polygon points="139.7,360.5 156.5,350.3 150,345.9 139.5,360.4" fill="#ba4949" stroke="#ba4949" stroke-width="0.6"/>
<polygon points="139.2,360.8 145.7,364.4 156.5,350.3 150,345.9" class="m"/>
<polygon points="145.7,364.4 152.2,368 156,363.2 149.7,362.1" fill="#9d3838" stroke="#9d3838" stroke-width="0.6"/>
<polygon points="156,363.2 163,354.5 149.7,362.1" fill="#b54747" stroke="#b54747" stroke-width="0.6"/>
<polygon points="145.7,364.4 149.7,362.1 147.7,361.9" fill="#a23b3b" stroke="#a23b3b" stroke-width="0.6"/>
<polygon points="149.7,362.1 163,354.5 156.5,350.3 147.7,361.9" fill="#bb4a4a" stroke="#bb4a4a" stroke-width="0.6"/>
<polygon points="145.7,364.4 152.2,368 163,354.5 156.5,350.3" class="m"/>
<polygon points="152.2,368 158.8,371.5 164.5,364.5 160,363.7" fill="#9d3939" stroke="#9d3939" stroke-width="0.6"/>
<polygon points="164.5,364.5 169.5,358.6 160,363.7" fill="#b54747" stroke="#b54747" stroke-width="0.6"/>
<polygon points="152.2,368 160,363.7 156,363.2" fill="#a33b3b" stroke="#a33b3b" stroke-width="0.6"/>
<polygon points="160,363.7 169.5,358.6 163,354.5 156,363.2" fill="#bb4a4a" stroke="#bb4a4a" stroke-width="0.6"/>
<polygon points="152.2,368 158.8,371.5 169.5,358.6 163,354.5" class="m"/>
<polygon points="158.8,371.5 165.3,374.9 173.2,365.8 170.6,365.3" fill="#9e3939" stroke="#9e3939" stroke-width="0.6"/>
<polygon points="173.2,365.8 176,362.5 170.6,365.3" fill="#b64848" stroke="#b64848" stroke-width="0.6"/>
<polygon points="158.8,371.5 170.6,365.3 164.5,364.5" fill="#a33b3b" stroke="#a33b3b" stroke-width="0.6"/>
<polygon points="170.6,365.3 176,362.5 169.5,358.6 164.5,364.5" fill="#bc4a4a" stroke="#bc4a4a" stroke-width="0.6"/>
<polygon points="158.8,371.5 165.3,374.9 176,362.5 169.5,358.6" class="m"/>
<polygon points="165.3,374.9 171.8,378.2 182,366.9 181.5,366.8" fill="#9e3939" stroke="#9e3939" stroke-width="0.6"/>
<polygon points="182,366.9 182.5,366.3 181.5,366.8" fill="#b64848" stroke="#b64848" stroke-width="0.6"/>
<polygon points="165.3,374.9 181.5,366.8 173.2,365.8" fill="#a33b3b" stroke="#a33b3b" stroke-width="0.6"/>
<polygon points="181.5,366.8 182.5,366.3 176,362.5 173.2,365.8" fill="#bc4a4a" stroke="#bc4a4a" stroke-width="0.6"/>
<polygon points="165.3,374.9 171.8,378.2 182.5,366.3 176,362.5" class="m"/>
<polygon points="171.8,378.2 178.3,381.4 189.1,370" fill="#9e3939" stroke="#9e3939" stroke-width="0.6"/>
<polygon points="171.8,378.2 189.1,370 184.2,367.2 182,366.9" fill="#a33b3b" stroke="#a33b3b" stroke-width="0.6"/>
<polygon points="184.2,367.2 182.5,366.3 182,366.9" fill="#bc4a4a" stroke="#bc4a4a" stroke-width="0.6"/>
<polygon points="171.8,378.2 178.3,381.4 189.1,370 182.5,366.3" class="m"/>
<polygon points="178.3,381.4 184.8,384.6 195.6,373.5" fill="#9f3939" stroke="#9f3939" stroke-width="0.6"/>
<polygon points="178.3,381.4 195.6,373.5 189.1,370" fill="#a33b3b" stroke="#a33b3b" stroke-width="0.6"/>
<polygon points="178.3,381.4 184.8,384.6 195.6,373.5 189.1,370" class="m"/>
<polygon points="184.8,384.6 191.3,387.8 202.1,377" fill="#9f3939" stroke="#9f3939" stroke-width="0.6"/>
<polygon points="184.8,384.6 202.1,377 195.6,373.5" fill="#a33b3b" stroke="#a33b3b" stroke-width="0.6"/>
<polygon points="184.8,384.6 191.3,387.8 202.1,377 195.6,373.5" class="m"/>
<polygon points="191.3,387.8 197.8,390.9 208.6,380.5" fill="#9f3939" stroke="#9f3939" stroke-width="0.6"/>
<polygon points="191.3,387.8 208.6,380.5 202.1,377" fill="#a33b3b" stroke="#a33b3b" stroke-width="0.6"/>
<polygon points="191.3,387.8 197.8,390.9 208.6,380.5 202.1,377" class="m"/>
<polygon points="197.8,390.9 204.3,394 215.1,383.8" fill="#9f3939" stroke="#9f3939" stroke-width="0.6"/>
<polygon points="197.8,390.9 215.1,383.8 208.6,380.5" fill="#a23b3b" stroke="#a23b3b" stroke-width="0.6"/>
<polygon points="197.8,390.9 204.3,394 215.1,383.8 208.6,380.5" class="m"/>
<polygon points="204.3,394 210.8,397 221.6,387.1" fill="#9e3939" stroke="#9e3939" stroke-width="0.6"/>
<polygon points="204.3,394 221.6,387.1 215.1,383.8" fill="#a23a3a" stroke="#a23a3a" stroke-width="0.6"/>
<polygon points="204.3,394 210.8,397 221.6,387.1 215.1,383.8" class="m"/>
<polygon points="210.8,397 217.3,400 228.1,390.3" fill="#9e3939" stroke="#9e3939" stroke-width="0.6"/>
<polygon points="210.8,397 228.1,390.3 221.6,387.1" fill="#a23a3a" stroke="#a23a3a" stroke-width="0.6"/>
<polygon points="210.8,397 217.3,400 228.1,390.3 221.6,387.1" class="m"/>
<polygon points="217.3,400 223.8,402.9 234.6,393.5" fill="#9e3939" stroke="#9e3939" stroke-width="0.6"/>
<polygon points="217.3,400 234.6,393.5 228.1,390.3" fill="#a13a3a" stroke="#a13a3a" stroke-width="0.6"/>
<polygon points="217.3,400 223.8,402.9 234.6,393.5 228.1,390.3" class="m"/>
<polygon points="223.8,402.9 230.4,405.8 241.1,396.6" fill="#9e3939" stroke="#9e3939" stroke-width="0.6"/>
<polygon points="223.8,402.9 241.1,396.6 234.6,393.5" fill="#a13a3a" stroke="#a13a3a" stroke-width="0.6"/>
<polygon points="223.8,402.9 230.4,405.8 241.1,396.6 234.6,393.5" class="m"/>
<polygon points="89.4,362.9 95.9,365.9 102.1,351.4 99.1,350.5" fill="#7d2d2d" stroke="#7d2d2d" stroke-width="0.6"/>
<polygon points="102.1,351.4 106.7,340.7 99.1,350.5" fill="#903939" stroke="#903939" stroke-width="0.6"/>
<polygon points="89.4,362.9 99.1,350.5 94.8,349.5" fill="#863030" stroke="#863030" stroke-width="0.6"/>
<polygon points="99.1,350.5 106.7,340.7 100.2,336.2 94.8,349.5" fill="#9b3d3d" stroke="#9b3d3d" stroke-width="0.6"/>
<polygon points="89.4,362.9 95.9,365.9 106.7,340.7 100.2,336.2" class="m"/>
<polygon points="95.9,365.9 102.4,368.9 109.5,353.3 107,352.5" fill="#7e2e2e" stroke="#7e2e2e" stroke-width="0.6"/>
<polygon points="109.5,353.3 113.2,345 107,352.5" fill="#923939" stroke="#923939" stroke-width="0.6"/>
<polygon points="95.9,365.9 107,352.5 102.1,351.4" fill="#873131" stroke="#873131" stroke-width="0.6"/>
<polygon points="107,352.5 113.2,345 106.7,340.7 102.1,351.4" fill="#9c3d3d" stroke="#9c3d3d" stroke-width="0.6"/>
<polygon points="95.9,365.9 102.4,368.9 113.2,345 106.7,340.7" class="m"/>
<polygon points="102.4,368.9 108.9,371.8 116.9,355.1 115,354.5" fill="#802e2e" stroke="#802e2e" stroke-width="0.6"/>
<polygon points="116.9,355.1 119.7,349.2 115,354.5" fill="#943a3a" stroke="#943a3a" stroke-width="0.6"/>
<polygon points="102.4,368.9 115,354.5 109.5,353.3" fill="#893131" stroke="#893131" stroke-width="0.6"/>
<polygon points="115,354.5 119.7,349.2 113.2,345 109.5,353.3" fill="#9e3e3e" stroke="#9e3e3e" stroke-width="0.6"/>
<polygon points="102.4,368.9 108.9,371.8 119.7,349.2 113.2,345" class="m"/>
<polygon points="108.9,371.8 115.4,374.7 124.3,356.9 123.1,356.5" fill="#822f2f" stroke="#822f2f" stroke-width="0.6"/>
<polygon points="124.3,356.9 126.2,353.2 123.1,356.5" fill="#953b3b" stroke="#953b3b" stroke-width="0.6"/>
<polygon points="108.9,371.8 123.1,356.5 116.9,355.1" fill="#8a3232" stroke="#8a3232" stroke-width="0.6"/>
<polygon points="123.1,356.5 126.2,353.2 119.7,349.2 116.9,355.1" fill="#9f3e3e" stroke="#9f3e3e" stroke-width="0.6"/>
<polygon points="108.9,371.8 115.4,374.7 126.2,353.2 119.7,349.2" class="m"/>
<polygon points="115.4,374.7 121.9,377.6 131.8,358.7 131.2,358.5" fill="#832f2f" stroke="#832f2f" stroke-width="0.6"/>
<polygon points="131.8,358.7 132.7,357 131.2,358.5" fill="#973b3b" stroke="#973b3b" stroke-width="0.6"/>
<polygon points="115.4,374.7 131.2,358.5 124.3,356.9" fill="#8b3232" stroke="#8b3232" stroke-width="0.6"/>
<polygon points="131.2,358.5 132.7,357 126.2,353.2 124.3,356.9" fill="#a03f3f" stroke="#a03f3f" stroke-width="0.6"/>
<polygon points="115.4,374.7 121.9,377.6 132.7,357 126.2,353.2" class="m"/>
<polygon points="121.9,377.6 128.4,380.4 139.2,360.8" fill="#843030" stroke="#843030" stroke-width="0.6"/>
<polygon points="121.9,377.6 139.2,360.8 138.2,360.2 131.8,358.7" fill="#8c3232" stroke="#8c3232" stroke-width="0.6"/>
<polygon points="138.2,360.2 132.7,357 131.8,358.7" fill="#a13f3f" stroke="#a13f3f" stroke-width="0.6"/>
<polygon points="121.9,377.6 128.4,380.4 139.2,360.8 132.7,357" class="m"/>
<polygon points="128.4,380.4 134.9,383.3 145.7,364.4" fill="#863030" stroke="#863030" stroke-width="0.6"/>
<polygon points="128.4,380.4 145.7,364.4 139.2,360.8" fill="#8d3333" stroke="#8d3333" stroke-width="0.6"/>
<polygon points="128.4,380.4 134.9,383.3 145.7,364.4 139.2,360.8" class="m"/>
<polygon points="134.9,383.3 141.5,386.1 152.2,368" fill="#873131" stroke="#873131" stroke-width="0.6"/>
<polygon points="134.9,383.3 152.2,368 145.7,364.4" fill="#8e3333" stroke="#8e3333" stroke-width="0.6"/>
<polygon points="134.9,383.3 141.5,386.1 152.2,368 145.7,364.4" class="m"/>
<polygon points="141.5,386.1 148,388.8 158.8,371.5" fill="#883131" stroke="#883131" stroke-width="0.6"/>
<polygon points="141.5,386.1 158.8,371.5 152.2,368" fill="#8f3333" stroke="#8f3333" stroke-width="0.6"/>
<polygon points="141.5,386.1 148,388.8 158.8,371.5 152.2,368" class="m"/>
<polygon points="148,388.8 154.5,391.6 165.3,374.9" fill="#8a3232" stroke="#8a3232" stroke-width="0.6"/>
<polygon points="148,388.8 165.3,374.9 158.8,371.5" fill="#903434" stroke="#903434" stroke-width="0.6"/>
<polygon points="148,388.8 154.5,391.6 165.3,374.9 158.8,371.5" class="m"/>
<polygon points="154.5,391.6 161,394.3 171.8,378.2" fill="#8b3232" stroke="#8b3232" stroke-width="0.6"/>
<polygon points="154.5,391.6 171.8,378.2 165.3,374.9" fill="#913434" stroke="#913434" stroke-width="0.6"/>
<polygon points="154.5,391.6 161,394.3 171.8,378.2 165.3,374.9" class="m"/>
<polygon points="161,394.3 167.5,397.1 178.3,381.4" fill="#8c3232" stroke="#8c3232" stroke-width="0.6"/>
<polygon points="161,394.3 178.3,381.4 171.8,378.2" fill="#913434" stroke="#913434" stroke-width="0.6"/>
<polygon points="161,394.3 167.5,397.1 178.3,381.4 171.8,378.2" class="m"/>
<polygon points="167.5,397.1 174,399.8 184.8,384.6" fill="#8d3333" stroke="#8d3333" stroke-width="0.6"/>
<polygon points="167.5,397.1 184.8,384.6 178.3,381.4" fill="#923535" stroke="#923535" stroke-width="0.6"/>
<polygon points="167.5,397.1 174,399.8 184.8,384.6 178.3,381.4" class="m"/>
<polygon points="174,399.8 180.5,402.4 191.3,387.8" fill="#8e3333" stroke="#8e3333" stroke-width="0.6"/>
<polygon points="174,399.8 191.3,387.8 184.8,384.6" fill="#933535" stroke="#933535" stroke-width="0.6"/>
<polygon points="174,399.8 180.5,402.4 191.3,387.8 184.8,384.6" class="m"/>
<polygon points="180.5,402.4 187,405.1 197.8,390.9" fill="#8e3333" stroke="#8e3333" stroke-width="0.6"/>
<polygon points="180.5,402.4 197.8,390.9 191.3,387.8" fill="#933535" stroke="#933535" stroke-width="0.6"/>
<polygon points="180.5,402.4 187,405.1 197.8,390.9 191.3,387.8" class="m"/>
<polygon points="192.2,407.2 193.5,407.8 193.6,407.7" fill="#843232" stroke="#843232" stroke-width="0.6"/>
<polygon points="187,405.1 192.2,407.2 193.6,407.7 204.3,394" fill="#8f3434" stroke="#8f3434" stroke-width="0.6"/>
<polygon points="187,405.1 204.3,394 197.8,390.9" fill="#943535" stroke="#943535" stroke-width="0.6"/>
<polygon points="187,405.1 193.5,407.8 204.3,394 197.8,390.9" class="m"/>
<polygon points="193.5,407.8 200,410.4 200.6,409.7 193.7,407.7" fill="#853232" stroke="#853232" stroke-width="0.6"/>
<polygon points="200.6,409.7 210.8,397 193.7,407.7" fill="#903434" stroke="#903434" stroke-width="0.6"/>
<polygon points="193.5,407.8 193.7,407.7 193.6,407.7" fill="#833232" stroke="#833232" stroke-width="0.6"/>
<polygon points="193.7,407.7 210.8,397 204.3,394 193.6,407.7" fill="#943636" stroke="#943636" stroke-width="0.6"/>
<polygon points="193.5,407.8 200,410.4 210.8,397 204.3,394" class="m"/>
<polygon points="200,410.4 206.6,413 207.6,411.7 201.1,409.8" fill="#853232" stroke="#853232" stroke-width="0.6"/>
<polygon points="207.6,411.7 217.3,400 201.1,409.8" fill="#913434" stroke="#913434" stroke-width="0.6"/>
<polygon points="200,410.4 201.1,409.8 200.6,409.7" fill="#843232" stroke="#843232" stroke-width="0.6"/>
<polygon points="201.1,409.8 217.3,400 210.8,397 200.6,409.7" fill="#953636" stroke="#953636" stroke-width="0.6"/>
<polygon points="200,410.4 206.6,413 217.3,400 210.8,397" class="m"/>
<polygon points="206.6,413 213.1,415.7 214.7,413.8 208.4,411.9" fill="#863333" stroke="#863333" stroke-width="0.6"/>
<polygon points="214.7,413.8 223.8,402.9 208.4,411.9" fill="#913434" stroke="#913434" stroke-width="0.6"/>
<polygon points="206.6,413 208.4,411.9 207.6,411.7" fill="#853232" stroke="#853232" stroke-width="0.6"/>
<polygon points="208.4,411.9 223.8,402.9 217.3,400 207.6,411.7" fill="#953636" stroke="#953636" stroke-width="0.6"/>
<polygon points="206.6,413 213.1,415.7 223.8,402.9 217.3,400" class="m"/>
<polygon points="213.1,415.7 219.6,418.3 221.7,415.8 215.9,414.1" fill="#873333" stroke="#873333" stroke-width="0.6"/>
<polygon points="221.7,415.8 230.4,405.8 215.9,414.1" fill="#923535" stroke="#923535" stroke-width="0.6"/>
<polygon points="213.1,415.7 215.9,414.1 214.7,413.8" fill="#863333" stroke="#863333" stroke-width="0.6"/>
<polygon points="215.9,414.1 230.4,405.8 223.8,402.9 214.7,413.8" fill="#963636" stroke="#963636" stroke-width="0.6"/>
<polygon points="213.1,415.7 219.6,418.3 230.4,405.8 223.8,402.9" class="m"/>
<polygon points="78.6,395.3 85.1,397.6 92.8,374.9 91,374.2" fill="#6c2929" stroke="#6c2929" stroke-width="0.6"/>
<polygon points="92.8,374.9 95.9,365.9 91,374.2" fill="#712929" stroke="#712929" stroke-width="0.6"/>
<polygon points="78.6,395.3 91,374.2 86.1,372.7" fill="#6c2929" stroke="#6c2929" stroke-width="0.6"/>
<polygon points="91,374.2 95.9,365.9 89.4,362.9 86.1,372.7" fill="#752a2a" stroke="#752a2a" stroke-width="0.6"/>
<polygon points="78.6,395.3 85.1,397.6 95.9,365.9 89.4,362.9" class="m"/>
<polygon points="85.1,397.6 91.6,399.9 99.5,377.1 97.8,376.5" fill="#6d2929" stroke="#6d2929" stroke-width="0.6"/>
<polygon points="99.5,377.1 102.4,368.9 97.8,376.5" fill="#712929" stroke="#712929" stroke-width="0.6"/>
<polygon points="85.1,397.6 97.8,376.5 92.8,374.9" fill="#6c2929" stroke="#6c2929" stroke-width="0.6"/>
<polygon points="97.8,376.5 102.4,368.9 95.9,365.9 92.8,374.9" fill="#752a2a" stroke="#752a2a" stroke-width="0.6"/>
<polygon points="85.1,397.6 91.6,399.9 102.4,368.9 95.9,365.9" class="m"/>
<polygon points="91.6,399.9 98.1,402.2 106.3,379.3 104.7,378.7" fill="#6d2929" stroke="#6d2929" stroke-width="0.6"/>
<polygon points="106.3,379.3 108.9,371.8 104.7,378.7" fill="#722929" stroke="#722929" stroke-width="0.6"/>
<polygon points="91.6,399.9 104.7,378.7 99.5,377.1" fill="#6d2929" stroke="#6d2929" stroke-width="0.6"/>
<polygon points="104.7,378.7 108.9,371.8 102.4,368.9 99.5,377.1" fill="#762a2a" stroke="#762a2a" stroke-width="0.6"/>
<polygon points="91.6,399.9 98.1,402.2 108.9,371.8 102.4,368.9" class="m"/>
<polygon points="98.1,402.2 104.6,404.5 113,381.4 111.5,380.9" fill="#6e2a2a" stroke="#6e2a2a" stroke-width="0.6"/>
<polygon points="113,381.4 115.4,374.7 111.5,380.9" fill="#722929" stroke="#722929" stroke-width="0.6"/>
<polygon points="98.1,402.2 111.5,380.9 106.3,379.3" fill="#6d2929" stroke="#6d2929" stroke-width="0.6"/>
<polygon points="111.5,380.9 115.4,374.7 108.9,371.8 106.3,379.3" fill="#762b2b" stroke="#762b2b" stroke-width="0.6"/>
<polygon points="98.1,402.2 104.6,404.5 115.4,374.7 108.9,371.8" class="m"/>
<polygon points="104.6,404.5 111.1,406.8 119.7,383.6 118.3,383.2" fill="#6e2a2a" stroke="#6e2a2a" stroke-width="0.6"/>
<polygon points="119.7,383.6 121.9,377.6 118.3,383.2" fill="#732929" stroke="#732929" stroke-width="0.6"/>
<polygon points="104.6,404.5 118.3,383.2 113,381.4" fill="#6e2929" stroke="#6e2929" stroke-width="0.6"/>
<polygon points="118.3,383.2 121.9,377.6 115.4,374.7 113,381.4" fill="#762b2b" stroke="#762b2b" stroke-width="0.6"/>
<polygon points="104.6,404.5 111.1,406.8 121.9,377.6 115.4,374.7" class="m"/>
<polygon points="111.1,406.8 117.7,409 126.4,385.8 125.2,385.4" fill="#6f2a2a" stroke="#6f2a2a" stroke-width="0.6"/>
<polygon points="126.4,385.8 128.4,380.4 125.2,385.4" fill="#732a2a" stroke="#732a2a" stroke-width="0.6"/>
<polygon points="111.1,406.8 125.2,385.4 119.7,383.6" fill="#6e2a2a" stroke="#6e2a2a" stroke-width="0.6"/>
<polygon points="125.2,385.4 128.4,380.4 121.9,377.6 119.7,383.6" fill="#772b2b" stroke="#772b2b" stroke-width="0.6"/>
<polygon points="111.1,406.8 117.7,409 128.4,380.4 121.9,377.6" class="m"/>
<polygon points="117.7,409 124.2,411.3 133.1,388 132,387.6" fill="#6f2a2a" stroke="#6f2a2a" stroke-width="0.6"/>
<polygon points="133.1,388 134.9,383.3 132,387.6" fill="#742a2a" stroke="#742a2a" stroke-width="0.6"/>
<polygon points="117.7,409 132,387.6 126.4,385.8" fill="#6e2a2a" stroke="#6e2a2a" stroke-width="0.6"/>
<polygon points="132,387.6 134.9,383.3 128.4,380.4 126.4,385.8" fill="#772b2b" stroke="#772b2b" stroke-width="0.6"/>
<polygon points="117.7,409 124.2,411.3 134.9,383.3 128.4,380.4" class="m"/>
<polygon points="124.2,411.3 130.7,413.6 139.8,390.2 138.9,389.8" fill="#6f2a2a" stroke="#6f2a2a" stroke-width="0.6"/>
<polygon points="139.8,390.2 141.5,386.1 138.9,389.8" fill="#742a2a" stroke="#742a2a" stroke-width="0.6"/>
<polygon points="124.2,411.3 138.9,389.8 133.1,388" fill="#6f2a2a" stroke="#6f2a2a" stroke-width="0.6"/>
<polygon points="138.9,389.8 141.5,386.1 134.9,383.3 133.1,388" fill="#782b2b" stroke="#782b2b" stroke-width="0.6"/>
<polygon points="124.2,411.3 130.7,413.6 141.5,386.1 134.9,383.3" class="m"/>
<polygon points="130.7,413.6 137.2,415.9 146.6,392.4 145.7,392.1" fill="#702a2a" stroke="#702a2a" stroke-width="0.6"/>
<polygon points="146.6,392.4 148,388.8 145.7,392.1" fill="#752a2a" stroke="#752a2a" stroke-width="0.6"/>
<polygon points="130.7,413.6 145.7,392.1 139.8,390.2" fill="#6f2a2a" stroke="#6f2a2a" stroke-width="0.6"/>
<polygon points="145.7,392.1 148,388.8 141.5,386.1 139.8,390.2" fill="#782b2b" stroke="#782b2b" stroke-width="0.6"/>
<polygon points="130.7,413.6 137.2,415.9 148,388.8 141.5,386.1" class="m"/>
<polygon points="137.2,415.9 143.7,418.2 153.3,394.6 152.6,394.3" fill="#702a2a" stroke="#702a2a" stroke-width="0.6"/>
<polygon points="153.3,394.6 154.5,391.6 152.6,394.3" fill="#752a2a" stroke="#752a2a" stroke-width="0.6"/>
<polygon points="137.2,415.9 152.6,394.3 146.6,392.4" fill="#702a2a" stroke="#702a2a" stroke-width="0.6"/>
<polygon points="152.6,394.3 154.5,391.6 148,388.8 146.6,392.4" fill="#782b2b" stroke="#782b2b" stroke-width="0.6"/>
<polygon points="137.2,415.9 143.7,418.2 154.5,391.6 148,388.8" class="m"/>
<polygon points="143.7,418.2 150.2,420.5 160,396.7 159.4,396.5" fill="#712b2b" stroke="#712b2b" stroke-width="0.6"/>
<polygon points="160,396.7 161,394.3 159.4,396.5" fill="#752a2a" stroke="#752a2a" stroke-width="0.6"/>
<polygon points="143.7,418.2 159.4,396.5 153.3,394.6" fill="#702a2a" stroke="#702a2a" stroke-width="0.6"/>
<polygon points="159.4,396.5 161,394.3 154.5,391.6 153.3,394.6" fill="#792c2c" stroke="#792c2c" stroke-width="0.6"/>
<polygon points="143.7,418.2 150.2,420.5 161,394.3 154.5,391.6" class="m"/>
<polygon points="150.2,420.5 156.7,422.8 166.7,398.9 166.2,398.8" fill="#712b2b" stroke="#712b2b" stroke-width="0.6"/>
<polygon points="166.7,398.9 167.5,397.1 166.2,398.8" fill="#762b2b" stroke="#762b2b" stroke-width="0.6"/>
<polygon points="150.2,420.5 166.2,398.8 160,396.7" fill="#712b2b" stroke="#712b2b" stroke-width="0.6"/>
<polygon points="166.2,398.8 167.5,397.1 161,394.3 160,396.7" fill="#792c2c" stroke="#792c2c" stroke-width="0.6"/>
<polygon points="150.2,420.5 156.7,422.8 167.5,397.1 161,394.3" class="m"/>
<polygon points="156.7,422.8 163.2,425.1 173.4,401.1 173.1,401" fill="#712b2b" stroke="#712b2b" stroke-width="0.6"/>
<polygon points="173.4,401.1 174,399.8 173.1,401" fill="#762b2b" stroke="#762b2b" stroke-width="0.6"/>
<polygon points="156.7,422.8 173.1,401 166.7,398.9" fill="#712b2b" stroke="#712b2b" stroke-width="0.6"/>
<polygon points="173.1,401 174,399.8 167.5,397.1 166.7,398.9" fill="#7a2c2c" stroke="#7a2c2c" stroke-width="0.6"/>
<polygon points="156.7,422.8 163.2,425.1 174,399.8 167.5,397.1" class="m"/>
<polygon points="163.2,425.1 169.7,427.4 180.1,403.3 179.9,403.2" fill="#722b2b" stroke="#722b2b" stroke-width="0.6"/>
<polygon points="180.1,403.3 180.5,402.4 179.9,403.2" fill="#772b2b" stroke="#772b2b" stroke-width="0.6"/>
<polygon points="163.2,425.1 179.9,403.2 173.4,401.1" fill="#712b2b" stroke="#712b2b" stroke-width="0.6"/>
<polygon points="179.9,403.2 180.5,402.4 174,399.8 173.4,401.1" fill="#7a2c2c" stroke="#7a2c2c" stroke-width="0.6"/>
<polygon points="163.2,425.1 169.7,427.4 180.5,402.4 174,399.8" class="m"/>
<polygon points="169.7,427.4 176.2,429.6 186.9,405.5 186.8,405.5" fill="#722b2b" stroke="#722b2b" stroke-width="0.6"/>
<polygon points="186.9,405.5 187,405.1 186.8,405.5" fill="#772b2b" stroke="#772b2b" stroke-width="0.6"/>
<polygon points="169.7,427.4 186.8,405.5 180.1,403.3" fill="#722b2b" stroke="#722b2b" stroke-width="0.6"/>
<polygon points="186.8,405.5 187,405.1 180.5,402.4 180.1,403.3" fill="#7a2c2c" stroke="#7a2c2c" stroke-width="0.6"/>
<polygon points="169.7,427.4 176.2,429.6 187,405.1 180.5,402.4" class="m"/>
<polygon points="176.2,429.6 182.8,431.9 193.5,407.8" fill="#732b2b" stroke="#732b2b" stroke-width="0.6"/>
<polygon points="176.2,429.6 193.5,407.8 192.2,407.2 186.9,405.5" fill="#722b2b" stroke="#722b2b" stroke-width="0.6"/>
<polygon points="192.2,407.2 187,405.1 186.9,405.5" fill="#7b2c2c" stroke="#7b2c2c" stroke-width="0.6"/>
<polygon points="176.2,429.6 182.8,431.9 193.5,407.8 187,405.1" class="m"/>
<polygon points="182.8,431.9 189.3,434.2 200,410.4" fill="#732c2c" stroke="#732c2c" stroke-width="0.6"/>
<polygon points="182.8,431.9 200,410.4 193.5,407.8" fill="#732b2b" stroke="#732b2b" stroke-width="0.6"/>
<polygon points="182.8,431.9 189.3,434.2 200,410.4 193.5,407.8" class="m"/>
<polygon points="189.3,434.2 195.8,436.5 206.6,413" fill="#732c2c" stroke="#732c2c" stroke-width="0.6"/>
<polygon points="189.3,434.2 206.6,413 200,410.4" fill="#732c2c" stroke="#732c2c" stroke-width="0.6"/>
<polygon points="189.3,434.2 195.8,436.5 206.6,413 200,410.4" class="m"/>
<polygon points="195.8,436.5 202.3,438.8 213.1,415.7" fill="#742c2c" stroke="#742c2c" stroke-width="0.6"/>
<polygon points="195.8,436.5 213.1,415.7 206.6,413" fill="#732c2c" stroke="#732c2c" stroke-width="0.6"/>
<polygon points="195.8,436.5 202.3,438.8 213.1,415.7 206.6,413" class="m"/>
<polygon points="202.3,438.8 208.8,441.1 219.6,418.3" fill="#742c2c" stroke="#742c2c" stroke-width="0.6"/>
<polygon points="202.3,438.8 219.6,418.3 213.1,415.7" fill="#742c2c" stroke="#742c2c" stroke-width="0.6"/>
<polygon points="202.3,438.8 208.8,441.1 219.6,418.3 213.1,415.7" class="m"/>
<line x1="78.6" y1="395.8" x2="78.6" y2="300.6" class="ax"/>
<line x1="74.8" y1="395.3" x2="78.6" y2="395.3" class="az"/>
<text x="66.8" y="399.5" class="zl">0.0</text>
<line x1="76" y1="385.9" x2="78.6" y2="385.9" class="az"/>
<line x1="74.8" y1="376.5" x2="78.6" y2="376.5" class="az"/>
<text x="66.8" y="380.7" class="zl">0.2</text>
<line x1="76" y1="367" x2="78.6" y2="367" class="az"/>
<line x1="74.8" y1="357.6" x2="78.6" y2="357.6" class="az"/>
<text x="66.8" y="361.8" class="zl">0.4</text>
<line x1="76" y1="348.2" x2="78.6" y2="348.2" class="az"/>
<line x1="74.8" y1="338.8" x2="78.6" y2="338.8" class="az"/>
<text x="66.8" y="343" class="zl">0.6</text>
<line x1="76" y1="329.4" x2="78.6" y2="329.4" class="az"/>
<line x1="74.8" y1="319.9" x2="78.6" y2="319.9" class="az"/>
<text x="66.8" y="324.1" class="zl">0.8</text>
<line x1="76" y1="310.5" x2="78.6" y2="310.5" class="az"/>
<line x1="74.8" y1="301.1" x2="78.6" y2="301.1" class="az"/>
<text x="66.8" y="305.3" class="zl">1.0</text>
<line x1="78.6" y1="395.3" x2="78.6" y2="398.9" class="tk"/>
<line x1="85.1" y1="397.6" x2="85.1" y2="401.2" class="tk"/>
<line x1="91.6" y1="399.9" x2="91.6" y2="403.5" class="tk"/>
<line x1="98.1" y1="402.2" x2="98.1" y2="405.8" class="tk"/>
<line x1="104.6" y1="404.5" x2="104.6" y2="408.1" class="tk"/>
<line x1="111.1" y1="406.8" x2="111.1" y2="410.4" class="tk"/>
<line x1="117.7" y1="409" x2="117.7" y2="412.6" class="tk"/>
<line x1="124.2" y1="411.3" x2="124.2" y2="414.9" class="tk"/>
<line x1="130.7" y1="413.6" x2="130.7" y2="417.2" class="tk"/>
<line x1="137.2" y1="415.9" x2="137.2" y2="419.5" class="tk"/>
<line x1="143.7" y1="418.2" x2="143.7" y2="421.8" class="tk"/>
<line x1="150.2" y1="420.5" x2="150.2" y2="424.1" class="tk"/>
<line x1="156.7" y1="422.8" x2="156.7" y2="426.4" class="tk"/>
<line x1="163.2" y1="425.1" x2="163.2" y2="428.7" class="tk"/>
<line x1="169.7" y1="427.4" x2="169.7" y2="431" class="tk"/>
<line x1="176.2" y1="429.6" x2="176.2" y2="433.2" class="tk"/>
<line x1="182.8" y1="431.9" x2="182.8" y2="435.5" class="tk"/>
<line x1="189.3" y1="434.2" x2="189.3" y2="437.8" class="tk"/>
<line x1="195.8" y1="436.5" x2="195.8" y2="440.1" class="tk"/>
<line x1="202.3" y1="438.8" x2="202.3" y2="442.4" class="tk"/>
<line x1="208.8" y1="441.1" x2="208.8" y2="444.7" class="tk"/>
<line x1="208.8" y1="441.1" x2="208.8" y2="444.7" class="tk"/>
<line x1="219.6" y1="435.7" x2="219.6" y2="439.3" class="tk"/>
<line x1="230.4" y1="430.3" x2="230.4" y2="433.9" class="tk"/>
<line x1="241.1" y1="424.9" x2="241.1" y2="428.5" class="tk"/>
<line x1="251.9" y1="419.5" x2="251.9" y2="423.1" class="tk"/>
<line x1="262.7" y1="414.1" x2="262.7" y2="417.7" class="tk"/>
<line x1="273.5" y1="408.7" x2="273.5" y2="412.3" class="tk"/>
<line x1="284.3" y1="403.3" x2="284.3" y2="406.9" class="tk"/>
<line x1="295" y1="397.9" x2="295" y2="401.5" class="tk"/>
<line x1="305.8" y1="392.5" x2="305.8" y2="396.1" class="tk"/>
<line x1="316.6" y1="387.1" x2="316.6" y2="390.7" class="tk"/>
<text transform="translate(72.6 410.9) rotate(-63)" class="tl">0.0</text>
<text transform="translate(215.7 456.4) rotate(62)" class="tl">0.0</text>
<text transform="translate(98.6 420.1) rotate(-63)" class="tl">0.2</text>
<text transform="translate(237.3 445.6) rotate(62)" class="tl">0.2</text>
<text transform="translate(124.7 429.2) rotate(-63)" class="tl">0.4</text>
<text transform="translate(258.8 434.8) rotate(62)" class="tl">0.4</text>
<text transform="translate(150.7 438.4) rotate(-63)" class="tl">0.6</text>
<text transform="translate(280.4 424) rotate(62)" class="tl">0.6</text>
<text transform="translate(176.8 447.5) rotate(-63)" class="tl">0.8</text>
<text transform="translate(301.9 413.2) rotate(62)" class="tl">0.8</text>
<text transform="translate(202.8 456.7) rotate(-63)" class="tl">1.0</text>
<text transform="translate(323.5 402.4) rotate(62)" class="tl">1.0</text><g class="ti">
<text transform="translate(9.9 116.3) rotate(-90)" text-anchor="middle" textLength="225.4" lengthAdjust="spacingAndGlyphs">PROPORTION OF ALL BLOODMEALS PRECEDED</text>
<text transform="translate(24.1 117.0) rotate(-90)" text-anchor="middle" textLength="180.0" lengthAdjust="spacingAndGlyphs">BY HOUSE ENTRY PER FEEDING CYCLE</text>
<text transform="translate(37.6 116.2) rotate(-90)" text-anchor="middle" textLength="152.4" lengthAdjust="spacingAndGlyphs">(<tspan font-style="italic">F</tspan><tspan font-style="italic" font-size="7" dy="2">x,N</tspan><tspan dy="-2"> where </tspan><tspan font-style="italic">x</tspan> =1 feeding cycle)</text>
<text transform="translate(9.9 358.5) rotate(-90)" text-anchor="middle" textLength="209.9" lengthAdjust="spacingAndGlyphs">PROPORTION OF ALL BLOODMEALS BY OLD</text>
<text transform="translate(24.1 357.6) rotate(-90)" text-anchor="middle" textLength="206.9" lengthAdjust="spacingAndGlyphs">MOSQUITOES PRECEDED BY HOUSE ENTRY</text>
<text transform="translate(37.6 358.2) rotate(-90)" text-anchor="middle" textLength="153.9" lengthAdjust="spacingAndGlyphs">(<tspan font-style="italic">F</tspan><tspan font-style="italic" font-size="7" dy="2">x,N</tspan><tspan dy="-2"> where </tspan><tspan font-style="italic">x</tspan> =4 feeding cycles)</text>
<text transform="translate(125.5 457.3) rotate(19.6)" class="bt" text-anchor="middle" textLength="139" lengthAdjust="spacingAndGlyphs">SIZE OF CATTLE POPULATION</text>
<text transform="translate(121.8 470.5) rotate(19.6)" class="bt" text-anchor="middle" textLength="140.6" lengthAdjust="spacingAndGlyphs">RELATIVE TO HUMANS (<tspan font-style="italic">I</tspan><tspan font-style="italic" font-size="7" dy="2">c</tspan><tspan dy="-2">/</tspan><tspan font-style="italic">I</tspan><tspan font-style="italic" font-size="7" dy="2">h</tspan><tspan dy="-2">)</tspan></text>
<text transform="translate(288.1 454.4) rotate(-27.5)" class="bt" text-anchor="middle" textLength="142" lengthAdjust="spacingAndGlyphs">PROPORTION OF ATTEMPTED</text>
<text transform="translate(295.6 466.9) rotate(-27.5)" class="bt" text-anchor="middle" textLength="107.7" lengthAdjust="spacingAndGlyphs">ATTACKS ON HUMANS</text>
<text transform="translate(302.3 477.3) rotate(-27.5)" class="bt" text-anchor="middle" textLength="130.5" lengthAdjust="spacingAndGlyphs">OCCURING INDOORS (<tspan font-style="italic">π</tspan><tspan font-style="italic" font-size="7" dy="2">h,i,0</tspan><tspan dy="-2">)</tspan></text>
</g>
<text x="287" y="20.7" style="font-size:20px;font-weight:bold">a</text>
<text x="287" y="258.7" style="font-size:20px;font-weight:bold">b</text>
</svg></body></html>
